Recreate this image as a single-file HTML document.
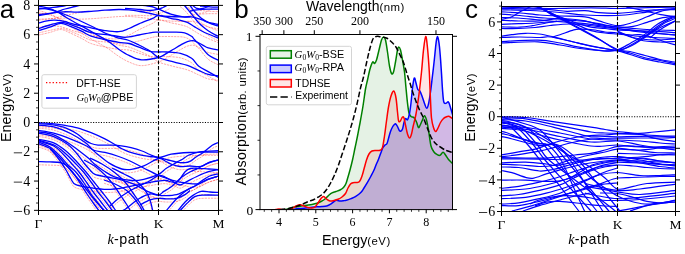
<!DOCTYPE html>
<html><head><meta charset="utf-8">
<style>
html,body{margin:0;padding:0;background:#fff;width:685px;height:254px;overflow:hidden}
svg{display:block;will-change:transform}
.sans{font-family:"Liberation Sans",sans-serif}
.serif{font-family:"Liberation Serif",serif}
</style></head><body>
<svg width="685" height="254" viewBox="0 0 685 254">
<defs><clipPath id="clipa"><rect x="38.5" y="5.5" width="180.0" height="205.0"/></clipPath><clipPath id="clipc"><rect x="501.5" y="6.5" width="174.0" height="205.0"/></clipPath></defs><g clip-path="url(#clipa)" fill="none" stroke-linejoin="round"><path d="M38.5,13.7C40.42,13.61 45.82,13.42 50,13.19C54.18,12.96 59.93,12.73 63.6,12.33C67.27,11.94 70.6,11.06 72,10.81" stroke="#ff0000" stroke-width="0.9" stroke-opacity="0.38" stroke-dasharray="2.2,0.9"/><path d="M38.5,10.5C39.92,10.91 43.97,11.82 47,12.96C50.03,14.11 53.48,15.54 56.7,17.38C59.92,19.21 62.87,21.77 66.3,24C69.73,26.22 73.62,28.53 77.3,30.75C80.98,32.97 84.95,35.27 88.4,37.3C91.85,39.32 94.8,41.06 98,42.9C101.2,44.74 104.15,46.08 107.6,48.32C111.05,50.55 115.13,54.01 118.7,56.29C122.27,58.57 125.18,60.43 129,61.99C132.82,63.56 136.68,65.68 141.6,65.68C146.52,65.69 154.33,63.3 158.5,62C162.67,60.7 164.1,59.27 166.6,57.9C169.1,56.53 171.18,55.18 173.5,53.8C175.82,52.42 178.18,50.88 180.5,49.6C182.82,48.32 185.1,46.8 187.4,46.1C189.7,45.4 191.75,44.82 194.3,45.4C196.85,45.98 200.38,48.43 202.7,49.6C205.02,50.77 205.57,51.58 208.2,52.4C210.83,53.22 216.78,54.15 218.5,54.5" stroke="#ff0000" stroke-width="0.9" stroke-opacity="0.38" stroke-dasharray="2.2,0.9"/><path d="M38.5,12.8C40.38,13.15 45.62,13.62 49.8,14.87C53.98,16.13 59.02,18.39 63.6,20.33C68.18,22.28 72.72,24.36 77.3,26.55C81.88,28.73 86.5,31.13 91.1,33.44C95.7,35.76 101.25,38.82 104.9,40.46C108.55,42.1 110.7,42.5 113,43.29C115.3,44.08 116.03,44.56 118.7,45.19C121.37,45.82 125.63,46.13 129,47.09C132.37,48.06 135.4,49.46 138.9,50.97C142.4,52.48 146.73,54.32 150,56.16C153.27,58 154.58,60.29 158.5,62C162.42,63.71 168.68,65.08 173.5,66.4C178.32,67.72 183.23,68.5 187.4,69.9C191.57,71.3 195.03,73.3 198.5,74.8C201.97,76.3 204.87,77.98 208.2,78.9C211.53,79.82 216.78,80.07 218.5,80.3" stroke="#ff0000" stroke-width="0.9" stroke-opacity="0.38" stroke-dasharray="2.2,0.9"/><path d="M38.5,19.2C40.38,19.11 45.62,18.85 49.8,18.67C53.98,18.5 59.02,18.05 63.6,18.13C68.18,18.21 72.72,19.05 77.3,19.15C81.88,19.25 86.5,18.99 91.1,18.74C95.7,18.5 100.3,18.02 104.9,17.66C109.5,17.3 114.68,16.78 118.7,16.59C122.72,16.4 125.45,16.36 129,16.49C132.55,16.63 136.5,17.04 140,17.4C143.5,17.76 146.92,18.26 150,18.66C153.08,19.06 155.17,19.41 158.5,19.8C161.83,20.19 166.33,20.73 170,21C173.67,21.27 176.9,21.33 180.5,21.4C184.1,21.47 188.13,20.95 191.6,21.4C195.07,21.85 198.53,23.18 201.3,24.1C204.07,25.02 205.88,26.2 208.2,26.9C210.52,27.6 213.48,27.95 215.2,28.3C216.92,28.65 217.95,28.88 218.5,29" stroke="#ff0000" stroke-width="0.9" stroke-opacity="0.38" stroke-dasharray="2.2,0.9"/><path d="M38.5,20.1C39.92,19.98 44.08,19.74 47,19.36C49.92,18.98 53,18.48 56,17.83C59,17.17 61.83,16.15 65,15.42C68.17,14.69 71.67,14.13 75,13.45C78.33,12.77 83.33,11.67 85,11.31" stroke="#ff0000" stroke-width="0.9" stroke-opacity="0.38" stroke-dasharray="2.2,0.9"/><path d="M38.5,27.5C39.92,27.26 44.43,26.33 47,26.06C49.57,25.79 51.6,25.76 53.9,25.88C56.2,25.99 58.5,26.25 60.8,26.75C63.1,27.25 64.95,27.99 67.7,28.88C70.45,29.76 73.4,30.99 77.3,32.05C81.2,33.11 86.5,34.24 91.1,35.24C95.7,36.25 100.3,37.47 104.9,38.06C109.5,38.65 114.68,39.28 118.7,38.79C122.72,38.3 125.63,36.6 129,35.09C132.37,33.59 134.95,31.75 138.9,29.77C142.85,27.8 149.43,24.88 152.7,23.25C155.97,21.62 155.48,20.08 158.5,20C161.52,19.92 167.13,22 170.8,22.8C174.47,23.6 177.73,24.12 180.5,24.8C183.27,25.48 185.1,25.85 187.4,26.9C189.7,27.95 191.98,29.72 194.3,31.1C196.62,32.48 198.98,33.97 201.3,35.2C203.62,36.43 205.33,37.25 208.2,38.5C211.07,39.75 216.78,42 218.5,42.7" stroke="#ff0000" stroke-width="0.9" stroke-opacity="0.38" stroke-dasharray="2.2,0.9"/><path d="M38.5,33C40.38,32.56 46.08,31.13 49.8,30.37C53.52,29.62 57.82,28.47 60.8,28.45C63.78,28.44 64.95,29.33 67.7,30.28C70.45,31.23 73.85,32.65 77.3,34.15C80.75,35.65 85.42,38.17 88.4,39.3C91.38,40.42 91.3,40.33 95.2,40.89C99.1,41.44 106.83,42.08 111.8,42.62C116.77,43.16 120.48,44.38 125,44.11C129.52,43.83 134.28,42.11 138.9,40.97C143.52,39.83 149.43,37.98 152.7,37.25C155.97,36.52 155.03,36.71 158.5,36.6C161.97,36.49 169.15,36.48 173.5,36.6C177.85,36.72 181.58,36.6 184.6,37.3C187.62,38 189.98,39.68 191.6,40.8C193.22,41.92 192.92,42.53 194.3,44C195.68,45.47 197.58,47.05 199.9,49.6C202.22,52.15 205.1,56.75 208.2,59.3C211.3,61.85 216.78,63.97 218.5,64.9" stroke="#ff0000" stroke-width="0.9" stroke-opacity="0.38" stroke-dasharray="2.2,0.9"/><path d="M38.5,35.1C40.38,34.66 46.08,33.4 49.8,32.47C53.52,31.55 57.37,29.45 60.8,29.55C64.23,29.66 66.95,31.65 70.4,33.12C73.85,34.6 78.05,36.67 81.5,38.41C84.95,40.14 87.2,42.12 91.1,43.54C95,44.97 100.3,45.98 104.9,46.96C109.5,47.93 114.68,48.87 118.7,49.39C122.72,49.91 125.63,49.46 129,50.09C132.37,50.72 135.4,52.11 138.9,53.17C142.4,54.23 146.73,55.91 150,56.46C153.27,57.02 155.73,56.49 158.5,56.5C161.27,56.51 162.93,56.27 166.6,56.5C170.27,56.73 176.33,56.85 180.5,57.9C184.67,58.95 188.6,60.72 191.6,62.8C194.6,64.88 195.73,68.18 198.5,70.4C201.27,72.62 204.87,74.17 208.2,76.1C211.53,78.03 216.78,81.02 218.5,82" stroke="#ff0000" stroke-width="0.9" stroke-opacity="0.38" stroke-dasharray="2.2,0.9"/><path d="M140,10.9C141.9,11.01 148.32,11.09 151.4,11.55C154.48,12.02 155.27,12.53 158.5,13.7C161.73,14.87 166.67,17.32 170.8,18.6C174.93,19.88 180.07,20.93 183.3,21.4C186.53,21.87 189.05,21.4 190.2,21.4" stroke="#ff0000" stroke-width="0.9" stroke-opacity="0.38" stroke-dasharray="2.2,0.9"/><path d="M125,15.31C127.5,15.32 135.83,15.34 140,15.4C144.17,15.46 146.92,15.94 150,15.66C153.08,15.38 156.33,14.31 158.5,13.7C160.67,13.09 161.58,12.62 163,12C164.42,11.38 165.83,10.58 167,10C168.17,9.42 169.5,8.75 170,8.5" stroke="#ff0000" stroke-width="0.9" stroke-opacity="0.38" stroke-dasharray="2.2,0.9"/><path d="M180,6.5C180.77,7.13 182.67,8.28 184.6,10.3C186.53,12.32 189.52,16.07 191.6,18.6C193.68,21.13 195.25,23.42 197.1,25.5C198.95,27.58 200.85,29.48 202.7,31.1C204.55,32.72 206.12,33.82 208.2,35.2C210.28,36.58 213.48,38.47 215.2,39.4C216.92,40.33 217.95,40.57 218.5,40.8" stroke="#ff0000" stroke-width="0.9" stroke-opacity="0.38" stroke-dasharray="2.2,0.9"/><path d="M186,6.5C186.7,7.13 188.82,8.75 190.2,10.3C191.58,11.85 192.45,13.72 194.3,15.8C196.15,17.88 198.98,20.95 201.3,22.8C203.62,24.65 205.88,25.75 208.2,26.9C210.52,28.05 213.48,29.12 215.2,29.7C216.92,30.28 217.95,30.28 218.5,30.4" stroke="#ff0000" stroke-width="0.9" stroke-opacity="0.38" stroke-dasharray="2.2,0.9"/><path d="M188,7.5C188.83,7.97 191.48,9.38 193,10.3C194.52,11.22 195.48,12.55 197.1,13C198.72,13.45 200.85,13.33 202.7,13C204.55,12.67 206.65,11.75 208.2,11C209.75,10.25 211.37,8.92 212,8.5" stroke="#ff0000" stroke-width="0.9" stroke-opacity="0.38" stroke-dasharray="2.2,0.9"/><path d="M190,15.5C191.18,15.32 194.07,14.7 197.1,14.4C200.13,14.1 204.63,13.82 208.2,13.7C211.77,13.58 216.78,13.7 218.5,13.7" stroke="#ff0000" stroke-width="0.9" stroke-opacity="0.38" stroke-dasharray="2.2,0.9"/><path d="M200,10.5C201.67,10.63 206.92,11.1 210,11.3C213.08,11.5 217.08,11.63 218.5,11.7" stroke="#ff0000" stroke-width="0.9" stroke-opacity="0.38" stroke-dasharray="2.2,0.9"/><path d="M38.5,125.9C40.38,126 45.62,126.1 49.8,126.5C53.98,126.9 59.02,127.55 63.6,128.3C68.18,129.05 72.72,129.73 77.3,131C81.88,132.27 86.5,134.05 91.1,135.9C95.7,137.75 100.77,140.03 104.9,142.1C109.03,144.17 113.15,146.7 115.9,148.3C118.65,149.9 119.22,150.58 121.4,151.7C123.58,152.82 125.9,153.95 129,155C132.1,156.05 136.5,157.22 140,158C143.5,158.78 146.92,159.25 150,159.7C153.08,160.15 155.48,160.12 158.5,160.7C161.52,161.28 165.08,162.43 168.1,163.2C171.12,163.97 173.77,164.85 176.6,165.3C179.43,165.75 182.8,166.07 185.1,165.9C187.4,165.73 188.58,165.25 190.4,164.3C192.22,163.35 193.85,161.63 196,160.2C198.15,158.77 200.6,157.65 203.3,155.7C206,153.75 209.67,150.17 212.2,148.5C214.73,146.83 217.45,146.17 218.5,145.7" stroke="#ff0000" stroke-width="0.9" stroke-opacity="0.38" stroke-dasharray="2.2,0.9"/><path d="M38.5,126.9C40.38,127.02 45.62,127.02 49.8,127.6C53.98,128.18 59.02,128.8 63.6,130.4C68.18,132 73.87,135.13 77.3,137.2C80.73,139.27 81.9,141.22 84.2,142.8C86.5,144.38 88.8,145.78 91.1,146.7C93.4,147.62 94.55,148.02 98,148.3C101.45,148.58 107.9,148.27 111.8,148.4C115.7,148.53 118.2,148.68 121.4,149.1C124.6,149.52 127.57,150.05 131,150.9C134.43,151.75 138.83,153.07 142,154.2C145.17,155.33 147.25,156.62 150,157.7C152.75,158.78 154.97,160.75 158.5,160.7C162.03,160.65 166.12,158.23 171.2,157.4C176.28,156.57 183.05,156.05 189,155.7C194.95,155.35 201.98,155.37 206.9,155.3C211.82,155.23 216.57,155.3 218.5,155.3" stroke="#ff0000" stroke-width="0.9" stroke-opacity="0.38" stroke-dasharray="2.2,0.9"/><path d="M38.5,128.3C41.03,128.6 48.2,128.62 53.7,130.1C59.2,131.58 66.18,134.55 71.5,137.2C76.82,139.85 82.07,143.35 85.6,146C89.13,148.65 90.55,151.07 92.7,153.1C94.85,155.13 95.68,155.95 98.5,158.2C101.32,160.45 105.72,164.27 109.6,166.6C113.48,168.93 118.13,171.22 121.8,172.2C125.47,173.18 127.93,173.02 131.6,172.5C135.27,171.98 139.32,170.9 143.8,169.1C148.28,167.3 154.8,162.43 158.5,161.7C162.2,160.97 163.75,163.7 166,164.7C168.25,165.7 169.67,166.87 172,167.7C174.33,168.53 177,169.45 180,169.7C183,169.95 186.48,169.22 190,169.2C193.52,169.18 197.83,170.25 201.1,169.6C204.37,168.95 206.7,166.37 209.6,165.3C212.5,164.23 217.02,163.55 218.5,163.2" stroke="#ff0000" stroke-width="0.9" stroke-opacity="0.38" stroke-dasharray="2.2,0.9"/><path d="M38.5,133.6C41.03,134.05 48.2,134.82 53.7,136.3C59.2,137.78 66.18,140.43 71.5,142.5C76.82,144.57 81.77,146.83 85.6,148.7C89.43,150.57 91.28,152.55 94.5,153.7C97.72,154.85 100.87,154.6 104.9,155.6C108.93,156.6 114.52,158.27 118.7,159.7C122.88,161.13 125.7,162.2 130,164.2C134.3,166.2 139.75,169.28 144.5,171.7C149.25,174.12 154.92,177.1 158.5,178.7C162.08,180.3 162.98,180.33 166,181.3C169.02,182.27 173.42,183.7 176.6,184.5C179.78,185.3 182.43,185.67 185.1,186.1C187.77,186.53 190.28,187 192.6,187.1C194.92,187.2 196.35,187.5 199,186.7C201.65,185.9 205.25,183.55 208.5,182.3C211.75,181.05 216.83,179.72 218.5,179.2" stroke="#ff0000" stroke-width="0.9" stroke-opacity="0.38" stroke-dasharray="2.2,0.9"/><path d="M38.5,135C41.03,135.5 48.8,136.17 53.7,138C58.6,139.83 63.47,143.18 67.9,146C72.33,148.82 76.75,152.23 80.3,154.9C83.85,157.57 86.75,159.85 89.2,162C91.65,164.15 92.53,165.77 95,167.8C97.47,169.83 100.75,172.17 104,174.2C107.25,176.23 109.9,178.42 114.5,180C119.1,181.58 126.72,183.28 131.6,183.7C136.48,184.12 139.32,183.52 143.8,182.5C148.28,181.48 154.8,179.4 158.5,177.6C162.2,175.8 163.52,173.38 166,171.7C168.48,170.02 171.45,168.65 173.4,167.5C175.35,166.35 176.27,165.6 177.7,164.8C179.13,164 180.12,163.8 182,162.7C183.88,161.6 186.05,159.48 189,158.2C191.95,156.92 194.78,155.72 199.7,155C204.62,154.28 215.37,154.08 218.5,153.9" stroke="#ff0000" stroke-width="0.9" stroke-opacity="0.38" stroke-dasharray="2.2,0.9"/><path d="M38.5,136.3C41.03,136.88 48.8,137.88 53.7,139.8C58.6,141.72 64.05,144.98 67.9,147.8C71.75,150.62 74.13,153.63 76.8,156.7C79.47,159.77 81.7,163.45 83.9,166.2C86.1,168.95 88.15,171.3 90,173.2C91.85,175.1 92.17,176.43 95,177.6C97.83,178.77 102.93,179.38 107,180.2C111.07,181.02 114.9,181.32 119.4,182.5C123.9,183.68 129.93,185.6 134,187.3C138.07,189 141.13,191.32 143.8,192.7C146.47,194.08 147.55,194.67 150,195.6C152.45,196.53 155.83,197.77 158.5,198.3C161.17,198.83 162.98,198.88 166,198.8C169.02,198.72 173.6,198.5 176.6,197.8C179.6,197.1 181.7,195.67 184,194.6C186.3,193.53 188.4,192.38 190.4,191.4C192.4,190.42 194.22,189.85 196,188.7C197.78,187.55 198.83,186.08 201.1,184.5C203.37,182.92 206.7,180.45 209.6,179.2C212.5,177.95 217.02,177.37 218.5,177" stroke="#ff0000" stroke-width="0.9" stroke-opacity="0.38" stroke-dasharray="2.2,0.9"/><path d="M38.5,142.5C41.03,143.08 49.12,144.05 53.7,146C58.28,147.95 62.12,151 66,154.2C69.88,157.4 73.67,161.7 77,165.2C80.33,168.7 83.17,171.87 86,175.2C88.83,178.53 91.33,181.87 94,185.2C96.67,188.53 99.5,192.03 102,195.2C104.5,198.37 106.67,201.03 109,204.2C111.33,207.37 114.83,212.53 116,214.2" stroke="#ff0000" stroke-width="0.9" stroke-opacity="0.38" stroke-dasharray="2.2,0.9"/><path d="M38.5,143.4C41.25,144.28 50.42,146.4 55,148.7C59.58,151 62.67,154.28 66,157.2C69.33,160.12 72.08,163.2 75,166.2C77.92,169.2 80.83,172.03 83.5,175.2C86.17,178.37 88.58,181.87 91,185.2C93.42,188.53 95.5,191.87 98,195.2C100.5,198.53 103.58,202.03 106,205.2C108.42,208.37 111.42,212.7 112.5,214.2" stroke="#ff0000" stroke-width="0.9" stroke-opacity="0.38" stroke-dasharray="2.2,0.9"/><path d="M38.5,144.2C41.03,145.03 49.62,147.03 53.7,149.2C57.78,151.37 60.12,154.37 63,157.2C65.88,160.03 68.33,163.2 71,166.2C73.67,169.2 76.33,171.87 79,175.2C81.67,178.53 84.5,182.7 87,186.2C89.5,189.7 91.67,193.03 94,196.2C96.33,199.37 98.67,202.2 101,205.2C103.33,208.2 106.83,212.7 108,214.2" stroke="#ff0000" stroke-width="0.9" stroke-opacity="0.38" stroke-dasharray="2.2,0.9"/><path d="M38.5,145.1C40.42,145.95 46.42,147.85 50,150.2C53.58,152.55 57,156.2 60,159.2C63,162.2 65.37,165.53 68,168.2C70.63,170.87 73.13,172.2 75.8,175.2C78.47,178.2 81.47,182.53 84,186.2C86.53,189.87 88.67,193.87 91,197.2C93.33,200.53 95.83,203.37 98,206.2C100.17,209.03 103,212.87 104,214.2" stroke="#ff0000" stroke-width="0.9" stroke-opacity="0.38" stroke-dasharray="2.2,0.9"/><path d="M38.5,146.9C40.45,147.7 46.78,149.48 50.2,151.7C53.62,153.92 56.37,157.45 59,160.2C61.63,162.95 63.73,165.7 66,168.2C68.27,170.7 70.27,172.2 72.6,175.2C74.93,178.2 77.6,182.53 80,186.2C82.4,189.87 84.67,193.7 87,197.2C89.33,200.7 91.83,204.2 94,207.2C96.17,210.2 99,213.87 100,215.2" stroke="#ff0000" stroke-width="0.9" stroke-opacity="0.38" stroke-dasharray="2.2,0.9"/><path d="M38.5,164.8C40.38,164.85 46.22,164.95 49.8,165.1C53.38,165.25 57.3,165.18 60,165.7C62.7,166.22 64.25,166.9 66,168.2C67.75,169.5 69.07,171.83 70.5,173.5C71.93,175.17 73.02,176.42 74.6,178.2C76.18,179.98 78.1,181.87 80,184.2C81.9,186.53 83.83,189.37 86,192.2C88.17,195.03 90.67,198.37 93,201.2C95.33,204.03 97.83,206.87 100,209.2C102.17,211.53 105,214.2 106,215.2" stroke="#ff0000" stroke-width="0.9" stroke-opacity="0.38" stroke-dasharray="2.2,0.9"/><path d="M50,151.7C51.33,153.28 55.33,157.62 58,161.2C60.67,164.78 63.83,169.7 66,173.2C68.17,176.7 69.37,179.77 71,182.2C72.63,184.63 72.38,186.33 75.8,187.8C79.22,189.27 86.25,190.22 91.5,191C96.75,191.78 102.05,192.5 107.3,192.5C112.55,192.5 117.75,191.78 123,191C128.25,190.22 134.3,188.68 138.8,187.8C143.3,186.92 146.72,186.3 150,185.7C153.28,185.1 155.83,184.53 158.5,184.2C161.17,183.87 162.98,183.48 166,183.7C169.02,183.92 173.42,186.97 176.6,185.5C179.78,184.03 182.8,177.2 185.1,174.9C187.4,172.6 188.27,172.27 190.4,171.7C192.53,171.13 194.88,171.42 197.9,171.5C200.92,171.58 205.07,171.98 208.5,172.2C211.93,172.42 216.83,172.7 218.5,172.8" stroke="#ff0000" stroke-width="0.9" stroke-opacity="0.38" stroke-dasharray="2.2,0.9"/><path d="M84,163.2C86,164.37 92.17,167.37 96,170.2C99.83,173.03 103.83,176.87 107,180.2C110.17,183.53 112.67,187.03 115,190.2C117.33,193.37 119,196.2 121,199.2C123,202.2 125.33,205.53 127,208.2C128.67,210.87 130.33,214.03 131,215.2" stroke="#ff0000" stroke-width="0.9" stroke-opacity="0.38" stroke-dasharray="2.2,0.9"/><path d="M90,161.2C92,162.2 98,164.87 102,167.2C106,169.53 110.17,172.2 114,175.2C117.83,178.2 121.83,181.7 125,185.2C128.17,188.7 130.5,192.7 133,196.2C135.5,199.7 138,203.03 140,206.2C142,209.37 144.17,213.7 145,215.2" stroke="#ff0000" stroke-width="0.9" stroke-opacity="0.38" stroke-dasharray="2.2,0.9"/><path d="M118,215.2C119.05,214.83 120.82,215.2 124.3,213C127.78,210.8 134.62,204.63 138.9,202C143.18,199.37 146.73,197.82 150,197.2C153.27,196.58 156.2,198.73 158.5,198.3C160.8,197.87 162.03,195.75 163.8,194.6C165.57,193.45 167.5,192.47 169.1,191.4C170.7,190.33 171.27,190.07 173.4,188.2C175.53,186.33 179.07,182.42 181.9,180.2C184.73,177.98 187.73,176.32 190.4,174.9C193.07,173.48 195.42,172.93 197.9,171.7C200.38,170.47 202.65,168.73 205.3,167.5C207.95,166.27 211.6,165.02 213.8,164.3C216,163.58 217.72,163.38 218.5,163.2" stroke="#ff0000" stroke-width="0.9" stroke-opacity="0.38" stroke-dasharray="2.2,0.9"/><path d="M110,209.2C111.3,208.03 114.8,204.53 117.8,202.2C120.8,199.87 125.03,197.07 128,195.2C130.97,193.33 131.95,192.88 135.6,191C139.25,189.12 146.08,185.95 149.9,183.9C153.72,181.85 155.98,179.32 158.5,178.7C161.02,178.08 162.75,179.28 165,180.2C167.25,181.12 169.5,182.87 172,184.2C174.5,185.53 177.47,188.15 180,188.2C182.53,188.25 184.22,186 187.2,184.5C190.18,183 194.35,180.8 197.9,179.2C201.45,177.6 205.07,175.97 208.5,174.9C211.93,173.83 216.83,173.15 218.5,172.8" stroke="#ff0000" stroke-width="0.9" stroke-opacity="0.38" stroke-dasharray="2.2,0.9"/><path d="M140,208.2C141.67,207.35 146.92,204.22 150,203.1C153.08,201.98 155.83,201.68 158.5,201.5C161.17,201.32 162.98,202 166,202C169.02,202 173.42,202.2 176.6,201.5C179.78,200.8 182.87,199.1 185.1,197.8C187.33,196.5 189.18,194.38 190,193.7" stroke="#ff0000" stroke-width="0.9" stroke-opacity="0.38" stroke-dasharray="2.2,0.9"/><path d="M166,214.2C167.77,212.17 173.42,205.27 176.6,202C179.78,198.73 182.43,196.55 185.1,194.6C187.77,192.65 190.47,191.45 192.6,190.3C194.73,189.15 195.25,189.03 197.9,187.7C200.55,186.37 205.07,183.72 208.5,182.3C211.93,180.88 216.83,179.72 218.5,179.2" stroke="#ff0000" stroke-width="0.9" stroke-opacity="0.38" stroke-dasharray="2.2,0.9"/><path d="M177.7,214.2C178.93,212.7 182.62,207.77 185.1,205.2C187.58,202.63 189.93,200.57 192.6,198.8C195.27,197.03 198.2,195.2 201.1,194.6C204,194 207.1,195.03 210,195.2C212.9,195.37 217.08,195.53 218.5,195.6" stroke="#ff0000" stroke-width="0.9" stroke-opacity="0.38" stroke-dasharray="2.2,0.9"/><path d="M179.8,214.2C181.03,212.88 184.72,208.68 187.2,206.3C189.68,203.92 192.03,201.23 194.7,199.9C197.37,198.57 199.23,198.57 203.2,198.3C207.17,198.03 215.95,198.3 218.5,198.3" stroke="#ff0000" stroke-width="0.9" stroke-opacity="0.38" stroke-dasharray="2.2,0.9"/><path d="M104,183.2C105.83,183.87 111.33,185.53 115,187.2C118.67,188.87 122.83,190.87 126,193.2C129.17,195.53 131.83,198.7 134,201.2C136.17,203.7 137.5,205.87 139,208.2C140.5,210.53 142.33,214.03 143,215.2" stroke="#ff0000" stroke-width="0.9" stroke-opacity="0.38" stroke-dasharray="2.2,0.9"/><path d="M112,171.2C114,172.2 120.17,175.2 124,177.2C127.83,179.2 131.5,180.53 135,183.2C138.5,185.87 142.5,189.87 145,193.2C147.5,196.53 148.67,199.53 150,203.2C151.33,206.87 152.5,213.2 153,215.2" stroke="#ff0000" stroke-width="0.9" stroke-opacity="0.38" stroke-dasharray="2.2,0.9"/><path d="M38.5,9.2C40.42,8.97 45.82,8.33 50,7.8C54.18,7.27 59.93,6.63 63.6,6C67.27,5.37 70.6,4.33 72,4" stroke="#0000ff" stroke-width="1.3"/><path d="M38.5,6C39.92,6.3 43.97,6.88 47,7.8C50.03,8.72 53.48,9.88 56.7,11.5C59.92,13.12 62.87,15.47 66.3,17.5C69.73,19.53 73.62,21.63 77.3,23.7C80.98,25.77 84.95,27.95 88.4,29.9C91.85,31.85 94.8,33.57 98,35.4C101.2,37.23 104.15,38.6 107.6,40.9C111.05,43.2 115.13,46.78 118.7,49.2C122.27,51.62 125.18,53.62 129,55.4C132.82,57.18 136.68,59.55 141.6,59.9C146.52,60.25 154.33,58.58 158.5,57.5C162.67,56.42 164.1,54.77 166.6,53.4C169.1,52.03 171.18,50.68 173.5,49.3C175.82,47.92 178.18,46.38 180.5,45.1C182.82,43.82 185.1,42.3 187.4,41.6C189.7,40.9 191.75,40.32 194.3,40.9C196.85,41.48 200.38,43.93 202.7,45.1C205.02,46.27 205.57,47.08 208.2,47.9C210.83,48.72 216.78,49.65 218.5,50" stroke="#0000ff" stroke-width="1.3"/><path d="M38.5,8.3C40.38,8.5 45.62,8.55 49.8,9.5C53.98,10.45 59.02,12.33 63.6,14C68.18,15.67 72.72,17.5 77.3,19.5C81.88,21.5 86.5,23.75 91.1,26C95.7,28.25 101.25,31.33 104.9,33C108.55,34.67 110.7,35.15 113,36C115.3,36.85 116.03,37.35 118.7,38.1C121.37,38.85 125.63,39.35 129,40.5C132.37,41.65 135.4,43.25 138.9,45C142.4,46.75 146.73,48.92 150,51C153.27,53.08 154.58,55.68 158.5,57.5C162.42,59.32 168.68,60.58 173.5,61.9C178.32,63.22 183.23,64 187.4,65.4C191.57,66.8 195.03,68.8 198.5,70.3C201.97,71.8 204.87,73.48 208.2,74.4C211.53,75.32 216.78,75.57 218.5,75.8" stroke="#0000ff" stroke-width="1.3"/><path d="M38.5,14.7C40.38,14.47 45.62,13.78 49.8,13.3C53.98,12.82 59.02,12 63.6,11.8C68.18,11.6 72.72,12.18 77.3,12.1C81.88,12.02 86.5,11.62 91.1,11.3C95.7,10.98 100.3,10.5 104.9,10.2C109.5,9.9 114.68,9.55 118.7,9.5C122.72,9.45 125.45,9.57 129,9.9C132.55,10.23 136.5,10.9 140,11.5C143.5,12.1 146.92,12.87 150,13.5C153.08,14.13 155.17,14.8 158.5,15.3C161.83,15.8 166.33,16.23 170,16.5C173.67,16.77 176.9,16.83 180.5,16.9C184.1,16.97 188.13,16.45 191.6,16.9C195.07,17.35 198.53,18.68 201.3,19.6C204.07,20.52 205.88,21.7 208.2,22.4C210.52,23.1 213.48,23.45 215.2,23.8C216.92,24.15 217.95,24.38 218.5,24.5" stroke="#0000ff" stroke-width="1.3"/><path d="M38.5,15.6C39.92,15.37 44.08,14.8 47,14.2C49.92,13.6 53,12.87 56,12C59,11.13 61.83,9.92 65,9C68.17,8.08 71.67,7.33 75,6.5C78.33,5.67 83.33,4.42 85,4" stroke="#0000ff" stroke-width="1.3"/><path d="M38.5,23C39.92,22.65 44.43,21.37 47,20.9C49.57,20.43 51.6,20.25 53.9,20.2C56.2,20.15 58.5,20.25 60.8,20.6C63.1,20.95 64.95,21.57 67.7,22.3C70.45,23.03 73.4,24.08 77.3,25C81.2,25.92 86.5,26.87 91.1,27.8C95.7,28.73 100.3,29.95 104.9,30.6C109.5,31.25 114.68,32.05 118.7,31.7C122.72,31.35 125.63,29.82 129,28.5C132.37,27.18 134.95,25.5 138.9,23.8C142.85,22.1 149.43,19.68 152.7,18.3C155.97,16.92 155.48,15.5 158.5,15.5C161.52,15.5 167.13,17.5 170.8,18.3C174.47,19.1 177.73,19.62 180.5,20.3C183.27,20.98 185.1,21.35 187.4,22.4C189.7,23.45 191.98,25.22 194.3,26.6C196.62,27.98 198.98,29.47 201.3,30.7C203.62,31.93 205.33,32.75 208.2,34C211.07,35.25 216.78,37.5 218.5,38.2" stroke="#0000ff" stroke-width="1.3"/><path d="M38.5,28.5C40.38,27.92 46.08,26.03 49.8,25C53.52,23.97 57.82,22.52 60.8,22.3C63.78,22.08 64.95,22.9 67.7,23.7C70.45,24.5 73.85,25.73 77.3,27.1C80.75,28.47 85.42,30.85 88.4,31.9C91.38,32.95 91.3,32.83 95.2,33.4C99.1,33.97 106.83,34.65 111.8,35.3C116.77,35.95 120.48,37.35 125,37.3C129.52,37.25 134.28,35.83 138.9,35C143.52,34.17 149.43,32.78 152.7,32.3C155.97,31.82 155.03,32.13 158.5,32.1C161.97,32.07 169.15,31.98 173.5,32.1C177.85,32.22 181.58,32.1 184.6,32.8C187.62,33.5 189.98,35.18 191.6,36.3C193.22,37.42 192.92,38.03 194.3,39.5C195.68,40.97 197.58,42.55 199.9,45.1C202.22,47.65 205.1,52.25 208.2,54.8C211.3,57.35 216.78,59.47 218.5,60.4" stroke="#0000ff" stroke-width="1.3"/><path d="M38.5,30.6C40.38,30.02 46.08,28.3 49.8,27.1C53.52,25.9 57.37,23.52 60.8,23.4C64.23,23.28 66.95,25.1 70.4,26.4C73.85,27.7 78.05,29.58 81.5,31.2C84.95,32.82 87.2,34.72 91.1,36.1C95,37.48 100.3,38.47 104.9,39.5C109.5,40.53 114.68,41.63 118.7,42.3C122.72,42.97 125.63,42.68 129,43.5C132.37,44.32 135.4,45.9 138.9,47.2C142.4,48.5 146.73,50.5 150,51.3C153.27,52.1 155.73,51.88 158.5,52C161.27,52.12 162.93,51.77 166.6,52C170.27,52.23 176.33,52.35 180.5,53.4C184.67,54.45 188.6,56.22 191.6,58.3C194.6,60.38 195.73,63.68 198.5,65.9C201.27,68.12 204.87,69.67 208.2,71.6C211.53,73.53 216.78,76.52 218.5,77.5" stroke="#0000ff" stroke-width="1.3"/><path d="M140,5C141.9,5.25 148.32,5.8 151.4,6.5C154.48,7.2 155.27,7.93 158.5,9.2C161.73,10.47 166.67,12.82 170.8,14.1C174.93,15.38 180.07,16.43 183.3,16.9C186.53,17.37 189.05,16.9 190.2,16.9" stroke="#0000ff" stroke-width="1.3"/><path d="M125,8.5C127.5,8.67 135.83,9.17 140,9.5C144.17,9.83 146.92,10.55 150,10.5C153.08,10.45 156.33,9.7 158.5,9.2C160.67,8.7 161.58,8.12 163,7.5C164.42,6.88 165.83,6.08 167,5.5C168.17,4.92 169.5,4.25 170,4" stroke="#0000ff" stroke-width="1.3"/><path d="M180,2C180.77,2.63 182.67,3.78 184.6,5.8C186.53,7.82 189.52,11.57 191.6,14.1C193.68,16.63 195.25,18.92 197.1,21C198.95,23.08 200.85,24.98 202.7,26.6C204.55,28.22 206.12,29.32 208.2,30.7C210.28,32.08 213.48,33.97 215.2,34.9C216.92,35.83 217.95,36.07 218.5,36.3" stroke="#0000ff" stroke-width="1.3"/><path d="M186,2C186.7,2.63 188.82,4.25 190.2,5.8C191.58,7.35 192.45,9.22 194.3,11.3C196.15,13.38 198.98,16.45 201.3,18.3C203.62,20.15 205.88,21.25 208.2,22.4C210.52,23.55 213.48,24.62 215.2,25.2C216.92,25.78 217.95,25.78 218.5,25.9" stroke="#0000ff" stroke-width="1.3"/><path d="M188,3C188.83,3.47 191.48,4.88 193,5.8C194.52,6.72 195.48,8.05 197.1,8.5C198.72,8.95 200.85,8.83 202.7,8.5C204.55,8.17 206.65,7.25 208.2,6.5C209.75,5.75 211.37,4.42 212,4" stroke="#0000ff" stroke-width="1.3"/><path d="M190,11C191.18,10.82 194.07,10.2 197.1,9.9C200.13,9.6 204.63,9.32 208.2,9.2C211.77,9.08 216.78,9.2 218.5,9.2" stroke="#0000ff" stroke-width="1.3"/><path d="M200,6C201.67,6.13 206.92,6.6 210,6.8C213.08,7 217.08,7.13 218.5,7.2" stroke="#0000ff" stroke-width="1.3"/><path d="M38.5,122.7C40.38,122.8 45.62,122.9 49.8,123.3C53.98,123.7 59.02,124.35 63.6,125.1C68.18,125.85 72.72,126.53 77.3,127.8C81.88,129.07 86.5,130.85 91.1,132.7C95.7,134.55 100.77,136.83 104.9,138.9C109.03,140.97 113.15,143.5 115.9,145.1C118.65,146.7 119.22,147.38 121.4,148.5C123.58,149.62 125.9,150.75 129,151.8C132.1,152.85 136.5,154.02 140,154.8C143.5,155.58 146.92,156.05 150,156.5C153.08,156.95 155.48,156.92 158.5,157.5C161.52,158.08 165.08,159.23 168.1,160C171.12,160.77 173.77,161.65 176.6,162.1C179.43,162.55 182.8,162.87 185.1,162.7C187.4,162.53 188.58,162.05 190.4,161.1C192.22,160.15 193.85,158.43 196,157C198.15,155.57 200.6,154.45 203.3,152.5C206,150.55 209.67,146.97 212.2,145.3C214.73,143.63 217.45,142.97 218.5,142.5" stroke="#0000ff" stroke-width="1.3"/><path d="M38.5,123.7C40.38,123.82 45.62,123.82 49.8,124.4C53.98,124.98 59.02,125.6 63.6,127.2C68.18,128.8 73.87,131.93 77.3,134C80.73,136.07 81.9,138.02 84.2,139.6C86.5,141.18 88.8,142.58 91.1,143.5C93.4,144.42 94.55,144.82 98,145.1C101.45,145.38 107.9,145.07 111.8,145.2C115.7,145.33 118.2,145.48 121.4,145.9C124.6,146.32 127.57,146.85 131,147.7C134.43,148.55 138.83,149.87 142,151C145.17,152.13 147.25,153.42 150,154.5C152.75,155.58 154.97,157.55 158.5,157.5C162.03,157.45 166.12,155.03 171.2,154.2C176.28,153.37 183.05,152.85 189,152.5C194.95,152.15 201.98,152.17 206.9,152.1C211.82,152.03 216.57,152.1 218.5,152.1" stroke="#0000ff" stroke-width="1.3"/><path d="M38.5,125.1C41.03,125.4 48.2,125.42 53.7,126.9C59.2,128.38 66.18,131.35 71.5,134C76.82,136.65 82.07,140.15 85.6,142.8C89.13,145.45 90.55,147.87 92.7,149.9C94.85,151.93 95.68,152.75 98.5,155C101.32,157.25 105.72,161.07 109.6,163.4C113.48,165.73 118.13,168.02 121.8,169C125.47,169.98 127.93,169.82 131.6,169.3C135.27,168.78 139.32,167.7 143.8,165.9C148.28,164.1 154.8,159.23 158.5,158.5C162.2,157.77 163.75,160.5 166,161.5C168.25,162.5 169.67,163.67 172,164.5C174.33,165.33 177,166.25 180,166.5C183,166.75 186.48,166.02 190,166C193.52,165.98 197.83,167.05 201.1,166.4C204.37,165.75 206.7,163.17 209.6,162.1C212.5,161.03 217.02,160.35 218.5,160" stroke="#0000ff" stroke-width="1.3"/><path d="M38.5,130.4C41.03,130.85 48.2,131.62 53.7,133.1C59.2,134.58 66.18,137.23 71.5,139.3C76.82,141.37 81.77,143.63 85.6,145.5C89.43,147.37 91.28,149.35 94.5,150.5C97.72,151.65 100.87,151.4 104.9,152.4C108.93,153.4 114.52,155.07 118.7,156.5C122.88,157.93 125.7,159 130,161C134.3,163 139.75,166.08 144.5,168.5C149.25,170.92 154.92,173.9 158.5,175.5C162.08,177.1 162.98,177.13 166,178.1C169.02,179.07 173.42,180.5 176.6,181.3C179.78,182.1 182.43,182.47 185.1,182.9C187.77,183.33 190.28,183.8 192.6,183.9C194.92,184 196.35,184.3 199,183.5C201.65,182.7 205.25,180.35 208.5,179.1C211.75,177.85 216.83,176.52 218.5,176" stroke="#0000ff" stroke-width="1.3"/><path d="M38.5,131.8C41.03,132.3 48.8,132.97 53.7,134.8C58.6,136.63 63.47,139.98 67.9,142.8C72.33,145.62 76.75,149.03 80.3,151.7C83.85,154.37 86.75,156.65 89.2,158.8C91.65,160.95 92.53,162.57 95,164.6C97.47,166.63 100.75,168.97 104,171C107.25,173.03 109.9,175.22 114.5,176.8C119.1,178.38 126.72,180.08 131.6,180.5C136.48,180.92 139.32,180.32 143.8,179.3C148.28,178.28 154.8,176.2 158.5,174.4C162.2,172.6 163.52,170.18 166,168.5C168.48,166.82 171.45,165.45 173.4,164.3C175.35,163.15 176.27,162.4 177.7,161.6C179.13,160.8 180.12,160.6 182,159.5C183.88,158.4 186.05,156.28 189,155C191.95,153.72 194.78,152.52 199.7,151.8C204.62,151.08 215.37,150.88 218.5,150.7" stroke="#0000ff" stroke-width="1.3"/><path d="M38.5,133.1C41.03,133.68 48.8,134.68 53.7,136.6C58.6,138.52 64.05,141.78 67.9,144.6C71.75,147.42 74.13,150.43 76.8,153.5C79.47,156.57 81.7,160.25 83.9,163C86.1,165.75 88.15,168.1 90,170C91.85,171.9 92.17,173.23 95,174.4C97.83,175.57 102.93,176.18 107,177C111.07,177.82 114.9,178.12 119.4,179.3C123.9,180.48 129.93,182.4 134,184.1C138.07,185.8 141.13,188.12 143.8,189.5C146.47,190.88 147.55,191.47 150,192.4C152.45,193.33 155.83,194.57 158.5,195.1C161.17,195.63 162.98,195.68 166,195.6C169.02,195.52 173.6,195.3 176.6,194.6C179.6,193.9 181.7,192.47 184,191.4C186.3,190.33 188.4,189.18 190.4,188.2C192.4,187.22 194.22,186.65 196,185.5C197.78,184.35 198.83,182.88 201.1,181.3C203.37,179.72 206.7,177.25 209.6,176C212.5,174.75 217.02,174.17 218.5,173.8" stroke="#0000ff" stroke-width="1.3"/><path d="M38.5,139.3C41.03,139.88 49.12,140.85 53.7,142.8C58.28,144.75 62.12,147.8 66,151C69.88,154.2 73.67,158.5 77,162C80.33,165.5 83.17,168.67 86,172C88.83,175.33 91.33,178.67 94,182C96.67,185.33 99.5,188.83 102,192C104.5,195.17 106.67,197.83 109,201C111.33,204.17 114.83,209.33 116,211" stroke="#0000ff" stroke-width="1.3"/><path d="M38.5,140.2C41.25,141.08 50.42,143.2 55,145.5C59.58,147.8 62.67,151.08 66,154C69.33,156.92 72.08,160 75,163C77.92,166 80.83,168.83 83.5,172C86.17,175.17 88.58,178.67 91,182C93.42,185.33 95.5,188.67 98,192C100.5,195.33 103.58,198.83 106,202C108.42,205.17 111.42,209.5 112.5,211" stroke="#0000ff" stroke-width="1.3"/><path d="M38.5,141C41.03,141.83 49.62,143.83 53.7,146C57.78,148.17 60.12,151.17 63,154C65.88,156.83 68.33,160 71,163C73.67,166 76.33,168.67 79,172C81.67,175.33 84.5,179.5 87,183C89.5,186.5 91.67,189.83 94,193C96.33,196.17 98.67,199 101,202C103.33,205 106.83,209.5 108,211" stroke="#0000ff" stroke-width="1.3"/><path d="M38.5,141.9C40.42,142.75 46.42,144.65 50,147C53.58,149.35 57,153 60,156C63,159 65.37,162.33 68,165C70.63,167.67 73.13,169 75.8,172C78.47,175 81.47,179.33 84,183C86.53,186.67 88.67,190.67 91,194C93.33,197.33 95.83,200.17 98,203C100.17,205.83 103,209.67 104,211" stroke="#0000ff" stroke-width="1.3"/><path d="M38.5,143.7C40.45,144.5 46.78,146.28 50.2,148.5C53.62,150.72 56.37,154.25 59,157C61.63,159.75 63.73,162.5 66,165C68.27,167.5 70.27,169 72.6,172C74.93,175 77.6,179.33 80,183C82.4,186.67 84.67,190.5 87,194C89.33,197.5 91.83,201 94,204C96.17,207 99,210.67 100,212" stroke="#0000ff" stroke-width="1.3"/><path d="M38.5,161.6C40.38,161.65 46.22,161.75 49.8,161.9C53.38,162.05 57.3,161.98 60,162.5C62.7,163.02 64.25,163.7 66,165C67.75,166.3 69.07,168.63 70.5,170.3C71.93,171.97 73.02,173.22 74.6,175C76.18,176.78 78.1,178.67 80,181C81.9,183.33 83.83,186.17 86,189C88.17,191.83 90.67,195.17 93,198C95.33,200.83 97.83,203.67 100,206C102.17,208.33 105,211 106,212" stroke="#0000ff" stroke-width="1.3"/><path d="M50,148.5C51.33,150.08 55.33,154.42 58,158C60.67,161.58 63.83,166.5 66,170C68.17,173.5 69.37,176.57 71,179C72.63,181.43 72.38,183.13 75.8,184.6C79.22,186.07 86.25,187.02 91.5,187.8C96.75,188.58 102.05,189.3 107.3,189.3C112.55,189.3 117.75,188.58 123,187.8C128.25,187.02 134.3,185.48 138.8,184.6C143.3,183.72 146.72,183.1 150,182.5C153.28,181.9 155.83,181.33 158.5,181C161.17,180.67 162.98,180.28 166,180.5C169.02,180.72 173.42,183.77 176.6,182.3C179.78,180.83 182.8,174 185.1,171.7C187.4,169.4 188.27,169.07 190.4,168.5C192.53,167.93 194.88,168.22 197.9,168.3C200.92,168.38 205.07,168.78 208.5,169C211.93,169.22 216.83,169.5 218.5,169.6" stroke="#0000ff" stroke-width="1.3"/><path d="M84,160C86,161.17 92.17,164.17 96,167C99.83,169.83 103.83,173.67 107,177C110.17,180.33 112.67,183.83 115,187C117.33,190.17 119,193 121,196C123,199 125.33,202.33 127,205C128.67,207.67 130.33,210.83 131,212" stroke="#0000ff" stroke-width="1.3"/><path d="M90,158C92,159 98,161.67 102,164C106,166.33 110.17,169 114,172C117.83,175 121.83,178.5 125,182C128.17,185.5 130.5,189.5 133,193C135.5,196.5 138,199.83 140,203C142,206.17 144.17,210.5 145,212" stroke="#0000ff" stroke-width="1.3"/><path d="M118,212C119.05,211.63 120.82,212 124.3,209.8C127.78,207.6 134.62,201.43 138.9,198.8C143.18,196.17 146.73,194.62 150,194C153.27,193.38 156.2,195.53 158.5,195.1C160.8,194.67 162.03,192.55 163.8,191.4C165.57,190.25 167.5,189.27 169.1,188.2C170.7,187.13 171.27,186.87 173.4,185C175.53,183.13 179.07,179.22 181.9,177C184.73,174.78 187.73,173.12 190.4,171.7C193.07,170.28 195.42,169.73 197.9,168.5C200.38,167.27 202.65,165.53 205.3,164.3C207.95,163.07 211.6,161.82 213.8,161.1C216,160.38 217.72,160.18 218.5,160" stroke="#0000ff" stroke-width="1.3"/><path d="M110,206C111.3,204.83 114.8,201.33 117.8,199C120.8,196.67 125.03,193.87 128,192C130.97,190.13 131.95,189.68 135.6,187.8C139.25,185.92 146.08,182.75 149.9,180.7C153.72,178.65 155.98,176.12 158.5,175.5C161.02,174.88 162.75,176.08 165,177C167.25,177.92 169.5,179.67 172,181C174.5,182.33 177.47,184.95 180,185C182.53,185.05 184.22,182.8 187.2,181.3C190.18,179.8 194.35,177.6 197.9,176C201.45,174.4 205.07,172.77 208.5,171.7C211.93,170.63 216.83,169.95 218.5,169.6" stroke="#0000ff" stroke-width="1.3"/><path d="M140,205C141.67,204.15 146.92,201.02 150,199.9C153.08,198.78 155.83,198.48 158.5,198.3C161.17,198.12 162.98,198.8 166,198.8C169.02,198.8 173.42,199 176.6,198.3C179.78,197.6 182.87,195.9 185.1,194.6C187.33,193.3 189.18,191.18 190,190.5" stroke="#0000ff" stroke-width="1.3"/><path d="M166,211C167.77,208.97 173.42,202.07 176.6,198.8C179.78,195.53 182.43,193.35 185.1,191.4C187.77,189.45 190.47,188.25 192.6,187.1C194.73,185.95 195.25,185.83 197.9,184.5C200.55,183.17 205.07,180.52 208.5,179.1C211.93,177.68 216.83,176.52 218.5,176" stroke="#0000ff" stroke-width="1.3"/><path d="M177.7,211C178.93,209.5 182.62,204.57 185.1,202C187.58,199.43 189.93,197.37 192.6,195.6C195.27,193.83 198.2,192 201.1,191.4C204,190.8 207.1,191.83 210,192C212.9,192.17 217.08,192.33 218.5,192.4" stroke="#0000ff" stroke-width="1.3"/><path d="M179.8,211C181.03,209.68 184.72,205.48 187.2,203.1C189.68,200.72 192.03,198.03 194.7,196.7C197.37,195.37 199.23,195.37 203.2,195.1C207.17,194.83 215.95,195.1 218.5,195.1" stroke="#0000ff" stroke-width="1.3"/><path d="M104,180C105.83,180.67 111.33,182.33 115,184C118.67,185.67 122.83,187.67 126,190C129.17,192.33 131.83,195.5 134,198C136.17,200.5 137.5,202.67 139,205C140.5,207.33 142.33,210.83 143,212" stroke="#0000ff" stroke-width="1.3"/><path d="M112,168C114,169 120.17,172 124,174C127.83,176 131.5,177.33 135,180C138.5,182.67 142.5,186.67 145,190C147.5,193.33 148.67,196.33 150,200C151.33,203.67 152.5,210 153,212" stroke="#0000ff" stroke-width="1.3"/></g><g clip-path="url(#clipc)" fill="none" stroke-linejoin="round"><path d="M501.5,6.2L675.5,6.2" stroke="#0000ff" stroke-width="1.2"/><path d="M501.5,7.1C505.42,7.22 516.42,7.57 525,7.8C533.58,8.03 542,8.5 553,8.5C564,8.5 580.25,7.8 591,7.8C601.75,7.8 609.33,8.5 617.5,8.5C625.67,8.5 630.33,8.03 640,7.8C649.67,7.57 669.58,7.22 675.5,7.1" stroke="#0000ff" stroke-width="1.2"/><path d="M501.5,8.5C504.42,8.55 512.75,8.68 519,8.8C525.25,8.92 533.33,9.02 539,9.2C544.67,9.38 548.33,9.55 553,9.9C557.67,10.25 561.67,11.18 567,11.3C572.33,11.42 579.7,10.38 585,10.6C590.3,10.82 593.38,12.15 598.8,12.6C604.22,13.05 611.77,13.4 617.5,13.3C623.23,13.2 627.13,12.57 633.2,12C639.27,11.43 646.85,10.48 653.9,9.9C660.95,9.32 671.9,8.73 675.5,8.5" stroke="#0000ff" stroke-width="1.2"/><path d="M501.5,9.8C506.25,9.92 520.25,10.05 530,10.5C539.75,10.95 550.83,11.75 560,12.5C569.17,13.25 575.42,14.5 585,15C594.58,15.5 608.33,15.83 617.5,15.5C626.67,15.17 632.92,13.92 640,13C647.08,12.08 654.08,10.57 660,10C665.92,9.43 672.92,9.67 675.5,9.6" stroke="#0000ff" stroke-width="1.2"/><path d="M501.5,19.5C503.22,19.05 508.93,17.95 511.8,16.8C514.67,15.65 516.4,13.87 518.7,12.6C521,11.33 523.53,10.23 525.6,9.2C527.67,8.17 530.18,6.87 531.1,6.4" stroke="#0000ff" stroke-width="1.2"/><path d="M528,5.5C529.88,5.88 536.27,6.83 539.3,7.8C542.33,8.77 543.9,10.03 546.2,11.3C548.5,12.57 550.8,14.25 553.1,15.4C555.4,16.55 557.7,17.28 560,18.2C562.3,19.12 563.45,19.53 566.9,20.9C570.35,22.27 576.68,24.78 580.7,26.4C584.72,28.02 586.95,29.5 591,30.6C595.05,31.7 600.58,32.43 605,33C609.42,33.57 613.33,33.67 617.5,34C621.67,34.33 626.23,34.88 630,35C633.77,35.12 636.12,34.2 640.1,34.7C644.08,35.2 649.75,36.78 653.9,38C658.05,39.22 661.4,40.83 665,42C668.6,43.17 673.75,44.5 675.5,45" stroke="#0000ff" stroke-width="1.2"/><path d="M539.3,7.1C541.6,8.25 548.5,11.93 553.1,14C557.7,16.07 562.3,17.77 566.9,19.5C571.5,21.23 576.68,23.13 580.7,24.4C584.72,25.67 586.95,26.42 591,27.1C595.05,27.78 600.58,28.03 605,28.5C609.42,28.97 612.8,29.55 617.5,29.9C622.2,30.25 627.13,30.38 633.2,30.6C639.27,30.82 646.85,30.87 653.9,31.2C660.95,31.53 671.9,32.37 675.5,32.6" stroke="#0000ff" stroke-width="1.2"/><path d="M501.5,11.8C504.58,12 513.58,12.47 520,13C526.42,13.53 533.33,14.5 540,15C546.67,15.5 552.5,15.7 560,16C567.5,16.3 578.53,15.98 585,16.8C591.47,17.62 593.38,19.42 598.8,20.9C604.22,22.38 611.77,25.47 617.5,25.7C623.23,25.93 628.28,23.78 633.2,22.3C638.12,20.82 642.4,18.63 647,16.8C651.6,14.97 656.05,12.68 660.8,11.3C665.55,9.92 673.05,8.97 675.5,8.5" stroke="#0000ff" stroke-width="1.2"/><path d="M501.5,14.2C504.58,14.42 512.75,14.87 520,15.5C527.25,16.13 536.67,17.42 545,18C553.33,18.58 563.33,18.52 570,19C576.67,19.48 580.2,20 585,20.9C589.8,21.8 593.38,23.37 598.8,24.4C604.22,25.43 611.77,26.77 617.5,27.1C623.23,27.43 628.28,27.2 633.2,26.4C638.12,25.6 642.4,23.67 647,22.3C651.6,20.93 656.05,19.23 660.8,18.2C665.55,17.17 673.05,16.45 675.5,16.1" stroke="#0000ff" stroke-width="1.2"/><path d="M501.5,17.6C504.25,17.67 512.42,17.68 518,18C523.58,18.32 529.67,19 535,19.5C540.33,20 544.17,20.5 550,21C555.83,21.5 564.17,22.05 570,22.5C575.83,22.95 577.08,22.7 585,23.7C592.92,24.7 608.33,27.12 617.5,28.5C626.67,29.88 630.33,30.93 640,32C649.67,33.07 669.58,34.42 675.5,34.9" stroke="#0000ff" stroke-width="1.2"/><path d="M501.5,20.3C504.37,20.42 512.4,20.9 518.7,21C525,21.1 532.88,21.27 539.3,20.9C545.72,20.53 551.25,18.87 557.2,18.8C563.15,18.73 569.53,19.97 575,20.5C580.47,21.03 585,21.25 590,22C595,22.75 600.42,24.2 605,25C609.58,25.8 611.67,26.13 617.5,26.8C623.33,27.47 632.92,28.47 640,29C647.08,29.53 654.08,29.75 660,30C665.92,30.25 672.92,30.42 675.5,30.5" stroke="#0000ff" stroke-width="1.2"/><path d="M501.5,24.3C504.37,24.2 513.12,23.92 518.7,23.7C524.28,23.48 529.78,23.28 535,23C540.22,22.72 544.68,22.4 550,22C555.32,21.6 562.57,20.83 566.9,20.6C571.23,20.37 574.48,20.6 576,20.6" stroke="#0000ff" stroke-width="1.2"/><path d="M501.5,26.9C504.58,26.95 514.85,27.4 520,27.2C525.15,27 528.03,26.4 532.4,25.7C536.77,25 542.1,23.78 546.2,23C550.3,22.22 555.2,21.33 557,21" stroke="#0000ff" stroke-width="1.2"/><path d="M501.5,28.5C504.37,28.5 513.12,28.67 518.7,28.5C524.28,28.33 529.78,28 535,27.5C540.22,27 544.17,26.08 550,25.5C555.83,24.92 563.33,24 570,24C576.67,24 584.17,24.92 590,25.5C595.83,26.08 600.42,27 605,27.5C609.58,28 611.67,27.92 617.5,28.5C623.33,29.08 632.92,30.17 640,31C647.08,31.83 654.08,32.83 660,33.5C665.92,34.17 672.92,34.75 675.5,35" stroke="#0000ff" stroke-width="1.2"/><path d="M501.5,36.1C503.22,35.87 507.78,35.17 511.8,34.7C515.82,34.23 521.02,33.42 525.6,33.3C530.18,33.18 534.72,33.42 539.3,34C543.88,34.58 547.98,35.63 553.1,36.8C558.22,37.97 563.85,39.47 570,41C576.15,42.53 584.17,44.75 590,46C595.83,47.25 600.42,47.87 605,48.5C609.58,49.13 613.2,50.73 617.5,49.8C621.8,48.87 626.37,45.38 630.8,42.9C635.23,40.42 639.67,38 644.1,34.9C648.53,31.8 652.97,27.18 657.4,24.3C661.83,21.42 667.68,18.93 670.7,17.6C673.72,16.27 674.7,16.52 675.5,16.3" stroke="#0000ff" stroke-width="1.2"/><path d="M501.5,37.5C504.58,37.42 513.58,37 520,37C526.42,37 534.82,37.5 540,37.5C545.18,37.5 544.82,36.1 551.1,37C557.38,37.9 568.83,40.98 577.7,42.9C586.57,44.82 597.67,47.27 604.3,48.5C610.93,49.73 613.05,50.72 617.5,50.3C621.95,49.88 626.57,48.05 631,46C635.43,43.95 639.7,40.83 644.1,38C648.5,35.17 652.17,31.85 657.4,29C662.63,26.15 672.48,22.25 675.5,20.9" stroke="#0000ff" stroke-width="1.2"/><path d="M501.5,41.5C507.57,41.28 528.15,39.95 537.9,40.2C547.65,40.45 553.37,41.9 560,43C566.63,44.1 570.32,45.5 577.7,46.8C585.08,48.1 597.67,50.22 604.3,50.8C610.93,51.38 613.22,49.93 617.5,50.3C621.78,50.67 625.57,51.8 630,53C634.43,54.2 639.1,56.25 644.1,57.5C649.1,58.75 654.77,59.48 660,60.5C665.23,61.52 672.92,63.08 675.5,63.6" stroke="#0000ff" stroke-width="1.2"/><path d="M501.5,42.9C507.57,42.72 528.15,41.45 537.9,41.8C547.65,42.15 552.98,43.88 560,45C567.02,46.12 572.62,47.5 580,48.5C587.38,49.5 598.05,50.62 604.3,51C610.55,51.38 613.22,50.22 617.5,50.8C621.78,51.38 625.57,53.17 630,54.5C634.43,55.83 639.1,57.55 644.1,58.8C649.1,60.05 654.77,61 660,62C665.23,63 672.92,64.33 675.5,64.8" stroke="#0000ff" stroke-width="1.2"/><path d="M528,2.5C529.65,3.25 532.93,4.52 537.9,7C542.87,9.48 551.17,13.9 557.8,17.4C564.43,20.9 571.07,24.45 577.7,28C584.33,31.55 590.97,35.12 597.6,38.7C604.23,42.28 612.1,47.37 617.5,49.5C622.9,51.63 625.42,50.5 630,51.5C634.58,52.5 640,54.17 645,55.5C650,56.83 654.92,58.37 660,59.5C665.08,60.63 672.92,61.83 675.5,62.3" stroke="#0000ff" stroke-width="1.2"/><path d="M529.5,2.5C531.15,3.25 534.43,4.52 539.4,7C544.37,9.48 552.67,13.9 559.3,17.4C565.93,20.9 572.58,24.42 579.2,28C585.82,31.58 592.62,35.25 599,38.9C605.38,42.55 612.17,48.88 617.5,49.9C622.83,50.92 626.5,47.23 631,45C635.5,42.77 640,39.67 644.5,36.5C649,33.33 653.63,28.98 658,26C662.37,23.02 667.78,20.02 670.7,18.6C673.62,17.18 674.7,17.68 675.5,17.5" stroke="#0000ff" stroke-width="1.2"/><path d="M553.1,36.8C554.25,36.45 556.55,35.85 560,34.7C563.45,33.55 570.35,30.82 573.8,29.9C577.25,28.98 577.17,29.18 580.7,29.2C584.23,29.22 590.95,29.53 595,30C599.05,30.47 601.25,31.5 605,32C608.75,32.5 612.5,32.33 617.5,33C622.5,33.67 628.75,35.25 635,36C641.25,36.75 648.25,37.08 655,37.5C661.75,37.92 672.08,38.33 675.5,38.5" stroke="#0000ff" stroke-width="1.2"/><path d="M626.3,7.1C629.75,7.8 641.25,10.03 647,11.3C652.75,12.57 656.05,13.78 660.8,14.7C665.55,15.62 673.05,16.45 675.5,16.8" stroke="#0000ff" stroke-width="1.2"/><path d="M649.8,38C651.63,36.53 656.52,32.05 660.8,29.2C665.08,26.35 673.05,22.28 675.5,20.9" stroke="#0000ff" stroke-width="1.2"/><path d="M642.9,38C644.73,36.77 650.47,32.98 653.9,30.6C657.33,28.22 659.9,25.77 663.5,23.7C667.1,21.63 673.5,19.12 675.5,18.2" stroke="#0000ff" stroke-width="1.2"/><path d="M617.5,31C620.42,32.17 628.75,36.5 635,38C641.25,39.5 648.25,39.83 655,40C661.75,40.17 672.08,39.17 675.5,39" stroke="#0000ff" stroke-width="1.2"/><path d="M617.5,32C621.25,33.33 632.92,38.33 640,40C647.08,41.67 654.08,41.75 660,42C665.92,42.25 672.92,41.58 675.5,41.5" stroke="#0000ff" stroke-width="1.2"/><path d="M501.5,116.8C505.52,116.92 517,116.7 525.6,117.5C534.2,118.3 542.2,119.98 553.1,121.6C564,123.22 582.35,125.88 591,127.2C599.65,128.52 600.58,128.78 605,129.5C609.42,130.22 611.67,130.75 617.5,131.5C623.33,132.25 633.92,132.88 640,134C646.08,135.12 648.08,136.93 654,138.2C659.92,139.47 671.92,141.03 675.5,141.6" stroke="#0000ff" stroke-width="1.2"/><path d="M501.5,117.8C505.52,117.98 517,117.8 525.6,118.9C534.2,120 542.2,122.22 553.1,124.4C564,126.58 582.35,130.57 591,132C599.65,133.43 600.58,132.77 605,133C609.42,133.23 611.67,133.33 617.5,133.4C623.33,133.47 633.92,133.63 640,133.4C646.08,133.17 648.08,132.58 654,132C659.92,131.42 671.92,130.25 675.5,129.9" stroke="#0000ff" stroke-width="1.2"/><path d="M501.5,119.6C505.52,119.83 517,119.73 525.6,121C534.2,122.27 544.87,125.2 553.1,127.2C561.33,129.2 568.68,131.4 575,133C581.32,134.6 586,136.22 591,136.8C596,137.38 600.58,136.5 605,136.5C609.42,136.5 611.67,136.83 617.5,136.8C623.33,136.77 630.33,136.42 640,136.3C649.67,136.18 669.58,136.13 675.5,136.1" stroke="#0000ff" stroke-width="1.2"/><path d="M501.5,117.8C502.25,117.88 502.42,117.4 506,118.3C509.58,119.2 517.33,121.25 523,123.2C528.67,125.15 534.83,126.37 540,130C545.17,133.63 549.67,140 554,145C558.33,150 560.5,153.33 566,160C571.5,166.67 580,176.67 587,185C594,193.33 604.08,205.33 608,210C611.92,214.67 610.08,212.5 610.5,213" stroke="#0000ff" stroke-width="1.2"/><path d="M501.5,120.5C502.25,120.58 503.25,120.33 506,121C508.75,121.67 514,123 518,124.5C522,126 525.67,126.58 530,130C534.33,133.42 539.67,140 544,145C548.33,150 550.67,153.33 556,160C561.33,166.67 569.33,176.67 576,185C582.67,193.33 592.25,205.33 596,210C599.75,214.67 598.08,212.5 598.5,213" stroke="#0000ff" stroke-width="1.2"/><path d="M501.5,122.3C502.25,122.38 503.75,122.28 506,122.8C508.25,123.32 512,124.2 515,125.4C518,126.6 520.25,126.73 524,130C527.75,133.27 533.33,140 537.5,145C541.67,150 541.67,153.33 549,160C556.33,166.67 570.67,176.67 581.5,185C592.33,193.33 608.17,205.33 614,210C619.83,214.67 616.08,212.5 616.5,213" stroke="#0000ff" stroke-width="1.2"/><path d="M501.5,123C502.25,123.08 504.08,123.03 506,123.5C507.92,123.97 510.67,124.72 513,125.8C515.33,126.88 516.58,126.8 520,130C523.42,133.2 529.33,140 533.5,145C537.67,150 539.33,153.33 545,160C550.67,166.67 560,176.67 567.5,185C575,193.33 585.83,205.33 590,210C594.17,214.67 592.08,212.5 592.5,213" stroke="#0000ff" stroke-width="1.2"/><path d="M501.5,125.1C502.25,125.18 504.58,125.32 506,125.6C507.42,125.88 508.67,126.07 510,126.8C511.33,127.53 511,126.97 514,130C517,133.03 523.67,140 528,145C532.33,150 534.83,153.33 540,160C545.17,166.67 552.67,176.67 559,185C565.33,193.33 574.42,205.33 578,210C581.58,214.67 580.08,212.5 580.5,213" stroke="#0000ff" stroke-width="1.2"/><path d="M501.5,132C502.25,132.08 500.67,130.67 506,132.5C511.33,134.33 526.58,140.92 533.5,143C540.42,145.08 542.92,142.17 547.5,145C552.08,147.83 556.83,153.33 561,160C565.17,166.67 568.67,176.67 572.5,185C576.33,193.33 581.67,205.33 584,210C586.33,214.67 586.08,212.5 586.5,213" stroke="#0000ff" stroke-width="1.2"/><path d="M501.5,134C502.25,134.08 499.25,132.83 506,134.5C512.75,136.17 533.33,142.25 542,144C550.67,145.75 552,142.33 558,145C564,147.67 571.25,153.33 578,160C584.75,166.67 591.67,176.67 598.5,185C605.33,193.33 615.17,205.33 619,210C622.83,214.67 621.08,212.5 621.5,213" stroke="#0000ff" stroke-width="1.2"/><path d="M501.5,136.8C502.25,136.88 499.92,135.87 506,137.3C512.08,138.73 529.67,144.12 538,145.4C546.33,146.68 550.67,142.57 556,145C561.33,147.43 565,153.33 570,160C575,166.67 580.67,176.67 586,185C591.33,193.33 598.92,205.33 602,210C605.08,214.67 604.08,212.5 604.5,213" stroke="#0000ff" stroke-width="1.2"/><path d="M501.5,125.5C506.25,125.92 520.25,126.75 530,128C539.75,129.25 549.83,131.17 560,133C570.17,134.83 581.42,137.83 591,139C600.58,140.17 609.33,139.67 617.5,140C625.67,140.33 632.92,140.5 640,141C647.08,141.5 654.08,142.5 660,143C665.92,143.5 672.92,143.83 675.5,144" stroke="#0000ff" stroke-width="1.2"/><path d="M501.5,126.5C506.25,127.08 520.25,128.33 530,130C539.75,131.67 549.83,134.5 560,136.5C570.17,138.5 581.42,141.25 591,142C600.58,142.75 609.33,140.5 617.5,141C625.67,141.5 632.92,143.83 640,145C647.08,146.17 654.08,147.17 660,148C665.92,148.83 672.92,149.67 675.5,150" stroke="#0000ff" stroke-width="1.2"/><path d="M501.5,128.5C504.58,128.75 513.58,128.92 520,130C526.42,131.08 533.33,133.33 540,135C546.67,136.67 551.5,138.17 560,140C568.5,141.83 583.5,145 591,146C598.5,147 600.58,146.17 605,146C609.42,145.83 611.67,144.83 617.5,145C623.33,145.17 630.33,146.5 640,147C649.67,147.5 669.58,147.83 675.5,148" stroke="#0000ff" stroke-width="1.2"/><path d="M501.5,127.2C504.37,127.42 513.55,127.37 518.7,128.5C523.85,129.63 527.82,131.93 532.4,134C536.98,136.07 542.28,138.73 546.2,140.9C550.12,143.07 551.93,144.48 555.9,147C559.87,149.52 564.32,152.67 570,156C575.68,159.33 584.17,163.33 590,167C595.83,170.67 600.42,174.33 605,178C609.58,181.67 612.8,187.62 617.5,189C622.2,190.38 628.28,187.22 633.2,186.3C638.12,185.38 639.95,184.2 647,183.5C654.05,182.8 670.75,182.33 675.5,182.1" stroke="#0000ff" stroke-width="1.2"/><path d="M501.5,121.5C504.25,121.92 512.92,122.58 518,124C523.08,125.42 527.33,127.58 532,130C536.67,132.42 541.33,135.5 546,138.5C550.67,141.5 556,144.92 560,148C564,151.08 566.5,153.67 570,157C573.5,160.33 577.5,164.5 581,168C584.5,171.5 587,174.67 591,178C595,181.33 600.58,185 605,188C609.42,191 613.33,193.83 617.5,196C621.67,198.17 625.42,199.67 630,201C634.58,202.33 640,203.67 645,204C650,204.33 654.92,203.33 660,203C665.08,202.67 672.92,202.17 675.5,202" stroke="#0000ff" stroke-width="1.2"/><path d="M501.5,154.9C504.37,154.4 513.08,152.87 518.7,151.9C524.32,150.93 530.65,150.17 535.2,149.1C539.75,148.03 541.87,146.85 546,145.5C550.13,144.15 555.17,142.33 560,141C564.83,139.67 570,138.42 575,137.5C580,136.58 585,135.92 590,135.5C595,135.08 600.42,135.25 605,135C609.58,134.75 611.67,134.08 617.5,134C623.33,133.92 632.92,134.17 640,134.5C647.08,134.83 654.08,135.5 660,136C665.92,136.5 672.92,137.25 675.5,137.5" stroke="#0000ff" stroke-width="1.2"/><path d="M501.5,156.7C504.37,156.35 512.4,155.52 518.7,154.6C525,153.68 533.57,152.33 539.3,151.2C545.03,150.07 548.32,149.08 553.1,147.8C557.88,146.52 562.68,144.8 568,143.5C573.32,142.2 579.67,140.83 585,140C590.33,139.17 594.58,138.8 600,138.5C605.42,138.2 610.83,138.28 617.5,138.2C624.17,138.12 632.92,138.03 640,138C647.08,137.97 654.08,138.08 660,138C665.92,137.92 672.92,137.58 675.5,137.5" stroke="#0000ff" stroke-width="1.2"/><path d="M501.5,157.7C505.52,157.77 518.15,158.03 525.6,158.1C533.05,158.17 540.47,158.33 546.2,158.1C551.93,157.87 555.2,157.22 560,156.7C564.8,156.18 569.83,155.57 575,155C580.17,154.43 586,154.13 591,153.3C596,152.47 600.58,151.15 605,150C609.42,148.85 612.83,147.07 617.5,146.4C622.17,145.73 627.58,145.9 633,146C638.42,146.1 642.92,147 650,147C657.08,147 671.25,146.17 675.5,146" stroke="#0000ff" stroke-width="1.2"/><path d="M501.5,158.8C505.42,158.83 516.42,158.88 525,159C533.58,159.12 544.67,159.33 553,159.5C561.33,159.67 568,160 575,160C582,160 587.92,159.82 595,159.5C602.08,159.18 610,158.52 617.5,158.1C625,157.68 632.92,157.52 640,157C647.08,156.48 654.08,155.5 660,155C665.92,154.5 672.92,154.17 675.5,154" stroke="#0000ff" stroke-width="1.2"/><path d="M501.5,162.9C505.52,162.78 518.18,162.02 525.6,162.2C533.02,162.38 541.1,163.45 546,164C550.9,164.55 551,165.67 555,165.5C559,165.33 564.17,164.08 570,163C575.83,161.92 584.17,160 590,159C595.83,158 600.42,157.38 605,157C609.58,156.62 611.67,156.2 617.5,156.7C623.33,157.2 632.92,158.78 640,160C647.08,161.22 654.08,163 660,164C665.92,165 672.92,165.67 675.5,166" stroke="#0000ff" stroke-width="1.2"/><path d="M501.5,164.3C504.58,164.42 513.75,164.63 520,165C526.25,165.37 533.5,166.42 539,166.5C544.5,166.58 547.83,166.58 553,165.5C558.17,164.42 563.83,161.75 570,160C576.17,158.25 584.17,156.33 590,155C595.83,153.67 600.42,152.98 605,152C609.58,151.02 612.5,149.43 617.5,149.1C622.5,148.77 628.75,149.43 635,150C641.25,150.57 648.25,152 655,152.5C661.75,153 672.08,152.92 675.5,153" stroke="#0000ff" stroke-width="1.2"/><path d="M501.5,167C504.37,167.08 512.4,166.83 518.7,167.5C525,168.17 533.58,170.67 539.3,171C545.02,171.33 548.4,170.38 553,169.5C557.6,168.62 561.57,167.12 566.9,165.7C572.23,164.28 579.48,162.2 585,161C590.52,159.8 594.58,158.87 600,158.5C605.42,158.13 610.83,158.22 617.5,158.8C624.17,159.38 632.92,161.05 640,162C647.08,162.95 654.08,164 660,164.5C665.92,165 672.92,164.92 675.5,165" stroke="#0000ff" stroke-width="1.2"/><path d="M501.5,170.5C503.22,170.85 507.78,171.45 511.8,172.6C515.82,173.75 521.93,176.48 525.6,177.4C529.27,178.32 530.37,178.68 533.8,178.1C537.23,177.52 541.83,175.28 546.2,173.9C550.57,172.52 555.2,171.12 560,169.8C564.8,168.48 570,167.13 575,166C580,164.87 585,163.83 590,163C595,162.17 600.42,161.47 605,161C609.58,160.53 611.67,160.2 617.5,160.2C623.33,160.2 632.92,160.7 640,161C647.08,161.3 654.08,161.75 660,162C665.92,162.25 672.92,162.42 675.5,162.5" stroke="#0000ff" stroke-width="1.2"/><path d="M585,172.6C587.3,171.67 593.38,168.27 598.8,167C604.22,165.73 611.8,165.17 617.5,165C623.2,164.83 628.08,165.58 633,166C637.92,166.42 642.5,167.08 647,167.5C651.5,167.92 655.25,168.25 660,168.5C664.75,168.75 672.92,168.92 675.5,169" stroke="#0000ff" stroke-width="1.2"/><path d="M501.5,180.1C505.52,180.1 518.15,179.88 525.6,180.1C533.05,180.32 540.47,181.28 546.2,181.4C551.93,181.52 556.1,181.37 560,180.8C563.9,180.23 566.27,179.47 569.6,178C572.93,176.53 576.27,174.17 580,172C583.73,169.83 587.83,166.67 592,165C596.17,163.33 600.75,162.47 605,162C609.25,161.53 611.67,162.03 617.5,162.2C623.33,162.37 632.92,162.7 640,163C647.08,163.3 654.08,163.67 660,164C665.92,164.33 672.92,164.83 675.5,165" stroke="#0000ff" stroke-width="1.2"/><path d="M501.5,188.3C504.37,187.97 512.4,187.33 518.7,186.3C525,185.27 533.1,183.48 539.3,182.1C545.5,180.72 550.78,179.52 555.9,178C561.02,176.48 565.15,174.67 570,173C574.85,171.33 580,169.5 585,168C590,166.5 594.58,165.25 600,164C605.42,162.75 610.83,161.5 617.5,160.5C624.17,159.5 632.92,157.92 640,158C647.08,158.08 654.08,160.17 660,161C665.92,161.83 672.92,162.67 675.5,163" stroke="#0000ff" stroke-width="1.2"/><path d="M501.5,190.4C505.52,190.17 518.18,189.9 525.6,189C533.02,188.1 539.1,186.67 546,185C552.9,183.33 560.5,181.17 567,179C573.5,176.83 579.5,174.17 585,172C590.5,169.83 594.58,167.58 600,166C605.42,164.42 614.58,163.08 617.5,162.5" stroke="#0000ff" stroke-width="1.2"/><path d="M501.5,195.9C504.37,195.67 512.4,195.42 518.7,194.5C525,193.58 532.42,192 539.3,190.4C546.18,188.8 554.25,186.97 560,184.9C565.75,182.83 569.63,179.98 573.8,178C577.97,176.02 580.63,174.67 585,173C589.37,171.33 594.58,169.33 600,168C605.42,166.67 614.58,165.5 617.5,165" stroke="#0000ff" stroke-width="1.2"/><path d="M501.5,198.7C505.52,198.47 518.15,198.22 525.6,197.3C533.05,196.38 539.3,194.92 546.2,193.2C553.1,191.48 561.37,188.87 567,187C572.63,185.13 576,183.5 580,182C584,180.5 586.83,179.67 591,178C595.17,176.33 600.58,173.67 605,172C609.42,170.33 615.42,168.67 617.5,168" stroke="#0000ff" stroke-width="1.2"/><path d="M501.5,204.2C504.37,203.97 512.4,203.72 518.7,202.8C525,201.88 532.42,200.3 539.3,198.7C546.18,197.1 554.25,195.27 560,193.2C565.75,191.13 569.22,188.5 573.8,186.3C578.38,184.1 583.33,181.88 587.5,180C591.67,178.12 593.8,176.25 598.8,175C603.8,173.75 610.63,172.42 617.5,172.5C624.37,172.58 632.92,175 640,175.5C647.08,176 654.08,175.62 660,175.5C665.92,175.38 672.92,174.92 675.5,174.8" stroke="#0000ff" stroke-width="1.2"/><path d="M501.5,205.6C504.37,205.6 512.4,206.3 518.7,205.6C525,204.9 532.42,203.02 539.3,201.4C546.18,199.78 553.12,197.73 560,195.9C566.88,194.07 574.77,192.05 580.6,190.4C586.43,188.75 590.93,187.4 595,186C599.07,184.6 601.25,183.33 605,182C608.75,180.67 613,178.75 617.5,178C622,177.25 627.42,177.67 632,177.5C636.58,177.33 640.33,177.17 645,177C649.67,176.83 654.92,176.62 660,176.5C665.08,176.38 672.92,176.33 675.5,176.3" stroke="#0000ff" stroke-width="1.2"/><path d="M511.8,211C515.23,210.1 525.52,207.65 532.4,205.6C539.28,203.55 546.2,201 553.1,198.7C560,196.4 567.48,193.87 573.8,191.8C580.12,189.73 585.8,187.6 591,186.3C596.2,185 600.58,184.55 605,184C609.42,183.45 615.42,183.17 617.5,183" stroke="#0000ff" stroke-width="1.2"/><path d="M522.8,211C525.55,210.1 533.1,207.43 539.3,205.6C545.5,203.77 554.05,201.6 560,200C565.95,198.4 570,197.17 575,196C580,194.83 587.5,193.5 590,193" stroke="#0000ff" stroke-width="1.2"/><path d="M530,204C531.55,203.33 534.3,201.35 539.3,200C544.3,198.65 554.25,196.58 560,195.9C565.75,195.22 568.63,195.55 573.8,195.9C578.97,196.25 586.63,197.32 591,198C595.37,198.68 595.58,199.58 600,200C604.42,200.42 610.83,200.58 617.5,200.5C624.17,200.42 630.33,200.25 640,199.5C649.67,198.75 669.58,196.58 675.5,196" stroke="#0000ff" stroke-width="1.2"/><path d="M535,206C536.87,205.35 542.03,202.87 546.2,202.1C550.37,201.33 554.27,201.17 560,201.4C565.73,201.63 575.43,202.92 580.6,203.5C585.77,204.08 586.93,204.48 591,204.9C595.07,205.32 600.58,205.73 605,206C609.42,206.27 615.42,206.42 617.5,206.5" stroke="#0000ff" stroke-width="1.2"/><path d="M585,183.5C590.42,184.65 608.33,189.48 617.5,190.4C626.67,191.32 630.33,190.03 640,189C649.67,187.97 669.58,185 675.5,184.2" stroke="#0000ff" stroke-width="1.2"/><path d="M585,186.3C590.42,187.22 608.33,190.43 617.5,191.8C626.67,193.17 630.33,194.73 640,194.5C649.67,194.27 669.58,191.08 675.5,190.4" stroke="#0000ff" stroke-width="1.2"/><path d="M600,193C602.92,193.08 611.97,192.78 617.5,193.5C623.03,194.22 628.28,195.98 633.2,197.3C638.12,198.62 642.4,200.48 647,201.4C651.6,202.32 656.05,203.03 660.8,202.8C665.55,202.57 673.05,200.47 675.5,200" stroke="#0000ff" stroke-width="1.2"/><path d="M585,193.2C587.3,193.67 593.38,195.08 598.8,196C604.22,196.92 610.63,198.48 617.5,198.7C624.37,198.92 630.33,198.22 640,197.3C649.67,196.38 669.58,193.88 675.5,193.2" stroke="#0000ff" stroke-width="1.2"/><path d="M617.5,211C618.92,210.77 622.25,210.28 626,209.6C629.75,208.92 635.35,207.8 640,206.9C644.65,206 647.98,205.27 653.9,204.2C659.82,203.13 671.9,201.12 675.5,200.5" stroke="#0000ff" stroke-width="1.2"/><path d="M630,211C632.83,210.1 641.87,206.85 647,205.6C652.13,204.35 656.05,204.1 660.8,203.5C665.55,202.9 673.05,202.25 675.5,202" stroke="#0000ff" stroke-width="1.2"/><path d="M617.5,153.3C621.25,153.42 632.92,153.8 640,154C647.08,154.2 654.08,154.33 660,154.5C665.92,154.67 672.92,154.92 675.5,155" stroke="#0000ff" stroke-width="1.2"/><path d="M617.5,156.7C621.25,157 632.92,157.78 640,158.5C647.08,159.22 654.08,160.25 660,161C665.92,161.75 672.92,162.67 675.5,163" stroke="#0000ff" stroke-width="1.2"/><path d="M617.5,160.2C621.25,160.67 632.92,161.95 640,163C647.08,164.05 654.08,165.67 660,166.5C665.92,167.33 672.92,167.75 675.5,168" stroke="#0000ff" stroke-width="1.2"/><path d="M617.5,148C621.25,148.33 632.92,150 640,150C647.08,150 654.08,148.42 660,148C665.92,147.58 672.92,147.58 675.5,147.5" stroke="#0000ff" stroke-width="1.2"/></g><g clip-path="url(#clipb)"><defs><clipPath id="clipb"><rect x="260.0" y="34.5" width="192.5" height="175.1"/></clipPath></defs><path d="M260.5,210.2C263.75,210.17 275.42,210.22 280,210C284.58,209.78 285.83,209.35 288,208.9C290.17,208.45 291,207.75 293,207.3C295,206.85 297.67,206.55 300,206.2C302.33,205.85 305,205.5 307,205.2C309,204.9 310.33,204.73 312,204.4C313.67,204.07 315.5,203.68 317,203.2C318.5,202.72 319.67,202.2 321,201.5C322.33,200.8 323.67,200.08 325,199C326.33,197.92 327.83,196.03 329,195C330.17,193.97 330.83,193.38 332,192.8C333.17,192.22 334.67,191.97 336,191.5C337.33,191.03 338.75,190.67 340,190C341.25,189.33 342.5,188.58 343.5,187.5C344.5,186.42 345.25,185.25 346,183.5C346.75,181.75 347.33,179.25 348,177C348.67,174.75 349.25,172.83 350,170C350.75,167.17 351.67,163.67 352.5,160C353.33,156.33 354.17,152 355,148C355.83,144 356.67,140.17 357.5,136C358.33,131.83 359.08,128 360,123C360.92,118 362.08,111.67 363,106C363.92,100.33 364.75,93.33 365.5,89C366.25,84.67 366.75,83.33 367.5,80C368.25,76.67 369.13,72 370,69C370.87,66 371.95,62.92 372.7,62C373.45,61.08 373.87,63.83 374.5,63.5C375.13,63.17 375.75,62.25 376.5,60C377.25,57.75 378.17,53.33 379,50C379.83,46.67 380.75,42.17 381.5,40C382.25,37.83 382.83,37 383.5,37C384.17,37 384.83,37.5 385.5,40C386.17,42.5 386.83,47.67 387.5,52C388.17,56.33 388.83,62.42 389.5,66C390.17,69.58 390.83,72.5 391.5,73.5C392.17,74.5 392.83,73.92 393.5,72C394.17,70.08 394.83,65.67 395.5,62C396.17,58.33 396.95,52.5 397.5,50C398.05,47.5 398.3,47 398.8,47C399.3,47 399.88,47.83 400.5,50C401.12,52.17 401.83,56.33 402.5,60C403.17,63.67 403.92,67.33 404.5,72C405.08,76.67 405.5,82.83 406,88C406.5,93.17 407,98.83 407.5,103C408,107.17 408.42,110.75 409,113C409.58,115.25 410.17,115.73 411,116.5C411.83,117.27 413.08,116.68 414,117.6C414.92,118.52 415.77,120.35 416.5,122C417.23,123.65 417.82,126.92 418.4,127.5C418.98,128.08 419.4,126.58 420,125.5C420.6,124.42 421.25,122.62 422,121C422.75,119.38 423.75,115.97 424.5,115.8C425.25,115.63 425.83,117.63 426.5,120C427.17,122.37 427.75,125.67 428.5,130C429.25,134.33 430.08,142.33 431,146C431.92,149.67 433,150.58 434,152C435,153.42 436,153.95 437,154.5C438,155.05 439,155.67 440,155.3C441,154.93 442.08,152.35 443,152.3C443.92,152.25 444.58,153.8 445.5,155C446.42,156.2 447.33,158.08 448.5,159.5C449.67,160.92 451.83,162.83 452.5,163.5L452.5,210.0L260.5,210.0Z" fill="#008000" fill-opacity="0.1" stroke="none"/><path d="M260.5,210.2C264.58,210.17 279.58,210.13 285,210C290.42,209.87 290.83,209.63 293,209.4C295.17,209.17 296.17,208.78 298,208.6C299.83,208.42 302,208.48 304,208.3C306,208.12 307.87,207.75 310,207.5C312.13,207.25 314.8,206.95 316.8,206.8C318.8,206.65 320.35,206.73 322,206.6C323.65,206.47 325.27,206.4 326.7,206C328.13,205.6 329.38,204.95 330.6,204.2C331.82,203.45 333.02,202.15 334,201.5C334.98,200.85 335.75,200.42 336.5,200.3C337.25,200.18 337.83,200.68 338.5,200.8C339.17,200.92 339.67,201.02 340.5,201C341.33,200.98 342.53,200.82 343.5,200.7C344.47,200.58 345.05,200.65 346.3,200.3C347.55,199.95 349.48,199.22 351,198.6C352.52,197.98 353.77,197.62 355.4,196.6C357.03,195.58 359.37,193.93 360.8,192.5C362.23,191.07 362.92,189.63 364,188C365.08,186.37 366.13,184.7 367.3,182.7C368.47,180.7 369.92,178.03 371,176C372.08,173.97 372.97,172.33 373.8,170.5C374.63,168.67 375.27,166.75 376,165C376.73,163.25 377.43,161.92 378.2,160C378.97,158.08 379.8,155.58 380.6,153.5C381.4,151.42 382.27,148.92 383,147.5C383.73,146.08 384.33,145.67 385,145C385.67,144.33 386.33,144.92 387,143.5C387.67,142.08 388.42,138.5 389,136.5C389.58,134.5 389.92,133.08 390.5,131.5C391.08,129.92 391.85,128.17 392.5,127C393.15,125.83 393.87,125.03 394.4,124.5C394.93,123.97 395.18,123.47 395.7,123.8C396.22,124.13 396.9,125.38 397.5,126.5C398.1,127.62 398.72,129.75 399.3,130.5C399.88,131.25 400.47,131.25 401,131C401.53,130.75 402,130.42 402.5,129C403,127.58 403.5,124.25 404,122.5C404.5,120.75 404.92,118.97 405.5,118.5C406.08,118.03 406.83,120.53 407.5,119.7C408.17,118.87 408.92,116.28 409.5,113.5C410.08,110.72 410.5,107.25 411,103C411.5,98.75 411.95,92.17 412.5,88C413.05,83.83 413.72,78.83 414.3,78C414.88,77.17 415.42,81.08 416,83C416.58,84.92 417.17,88.2 417.8,89.5C418.43,90.8 419.1,89.72 419.8,90.8C420.5,91.88 421.22,93.88 422,96C422.78,98.12 423.72,101.45 424.5,103.5C425.28,105.55 426.03,108.22 426.7,108.3C427.37,108.38 427.87,106.72 428.5,104C429.13,101.28 429.88,96.33 430.5,92C431.12,87.67 431.72,82 432.2,78C432.68,74 433.02,71.33 433.4,68C433.78,64.67 434.13,61.5 434.5,58C434.87,54.5 435.27,50.03 435.6,47C435.93,43.97 436.18,41.55 436.5,39.8C436.82,38.05 437.17,36.5 437.5,36.5C437.83,36.5 438.17,38.05 438.5,39.8C438.83,41.55 439.15,43.63 439.5,47C439.85,50.37 440.25,55.33 440.6,60C440.95,64.67 441.27,69.83 441.6,75C441.93,80.17 442.23,86.5 442.6,91C442.97,95.5 443.23,99.95 443.8,102C444.37,104.05 445.25,103.33 446,103.3C446.75,103.27 447.63,101.35 448.3,101.8C448.97,102.25 449.3,103.88 450,106C450.7,108.12 452.08,113.08 452.5,114.5L452.5,210.0L260.5,210.0Z" fill="#0000ff" fill-opacity="0.2" stroke="none"/><path d="M260.5,210.2C262.42,210.18 269.42,210.22 272,210.1C274.58,209.98 274.83,209.7 276,209.5C277.17,209.3 278,208.92 279,208.9C280,208.88 280.67,209.22 282,209.4C283.33,209.58 285.33,210.15 287,210C288.67,209.85 290.5,209.17 292,208.5C293.5,207.83 294.67,206.63 296,206C297.33,205.37 298.67,204.7 300,204.7C301.33,204.7 302.67,205.52 304,206C305.33,206.48 306.67,207.27 308,207.6C309.33,207.93 310.83,208.1 312,208C313.17,207.9 314,207.83 315,207C316,206.17 317,204.42 318,203C319,201.58 320.05,199.58 321,198.5C321.95,197.42 322.78,196.42 323.7,196.5C324.62,196.58 325.45,198.25 326.5,199C327.55,199.75 328.75,200.75 330,201C331.25,201.25 332.67,200.78 334,200.5C335.33,200.22 336.67,199.88 338,199.3C339.33,198.72 340.75,197.97 342,197C343.25,196.03 344.5,195 345.5,193.5C346.5,192 347.17,189.58 348,188C348.83,186.42 349.67,184.88 350.5,184C351.33,183.12 352,182.95 353,182.7C354,182.45 355.42,182.7 356.5,182.5C357.58,182.3 358.58,182.58 359.5,181.5C360.42,180.42 361.25,178.08 362,176C362.75,173.92 363.25,171.67 364,169C364.75,166.33 365.67,162.5 366.5,160C367.33,157.5 368.08,155.5 369,154C369.92,152.5 370.83,151.58 372,151C373.17,150.42 374.67,150.62 376,150.5C377.33,150.38 378.92,150.8 380,150.3C381.08,149.8 381.75,149.88 382.5,147.5C383.25,145.12 383.83,140.42 384.5,136C385.17,131.58 385.83,125.83 386.5,121C387.17,116.17 387.75,111.17 388.5,107C389.25,102.83 390.12,98.67 391,96C391.88,93.33 392.97,90.67 393.8,91C394.63,91.33 395.38,94.5 396,98C396.62,101.5 397.08,108.25 397.5,112C397.92,115.75 398.08,118.92 398.5,120.5C398.92,122.08 399.33,122.08 400,121.5C400.67,120.92 401.83,117.58 402.5,117C403.17,116.42 403.5,116.67 404,118C404.5,119.33 404.92,122.33 405.5,125C406.08,127.67 406.8,131.83 407.5,134C408.2,136.17 409.03,138 409.7,138C410.37,138 410.95,135.83 411.5,134C412.05,132.17 412.25,130.33 413,127C413.75,123.67 415,119.5 416,114C417,108.5 418.08,101 419,94C419.92,87 420.75,79.33 421.5,72C422.25,64.67 422.8,55.92 423.5,50C424.2,44.08 425.03,36.83 425.7,36.5C426.37,36.17 426.9,42.08 427.5,48C428.1,53.92 428.8,63.33 429.3,72C429.8,80.67 430.13,92.33 430.5,100C430.87,107.67 431,113.42 431.5,118C432,122.58 432.8,125.25 433.5,127.5C434.2,129.75 434.95,131.42 435.7,131.5C436.45,131.58 437.2,129.5 438,128C438.8,126.5 439.62,124.05 440.5,122.5C441.38,120.95 442.38,119.62 443.3,118.7C444.22,117.78 445.1,117.4 446,117C446.9,116.6 447.62,116.05 448.7,116.3C449.78,116.55 451.87,118.13 452.5,118.5L452.5,210.0L260.5,210.0Z" fill="#ff0000" fill-opacity="0.1" stroke="none"/><path d="M260.5,210.2C263.75,210.17 275.42,210.22 280,210C284.58,209.78 285.83,209.35 288,208.9C290.17,208.45 291,207.75 293,207.3C295,206.85 297.67,206.55 300,206.2C302.33,205.85 305,205.5 307,205.2C309,204.9 310.33,204.73 312,204.4C313.67,204.07 315.5,203.68 317,203.2C318.5,202.72 319.67,202.2 321,201.5C322.33,200.8 323.67,200.08 325,199C326.33,197.92 327.83,196.03 329,195C330.17,193.97 330.83,193.38 332,192.8C333.17,192.22 334.67,191.97 336,191.5C337.33,191.03 338.75,190.67 340,190C341.25,189.33 342.5,188.58 343.5,187.5C344.5,186.42 345.25,185.25 346,183.5C346.75,181.75 347.33,179.25 348,177C348.67,174.75 349.25,172.83 350,170C350.75,167.17 351.67,163.67 352.5,160C353.33,156.33 354.17,152 355,148C355.83,144 356.67,140.17 357.5,136C358.33,131.83 359.08,128 360,123C360.92,118 362.08,111.67 363,106C363.92,100.33 364.75,93.33 365.5,89C366.25,84.67 366.75,83.33 367.5,80C368.25,76.67 369.13,72 370,69C370.87,66 371.95,62.92 372.7,62C373.45,61.08 373.87,63.83 374.5,63.5C375.13,63.17 375.75,62.25 376.5,60C377.25,57.75 378.17,53.33 379,50C379.83,46.67 380.75,42.17 381.5,40C382.25,37.83 382.83,37 383.5,37C384.17,37 384.83,37.5 385.5,40C386.17,42.5 386.83,47.67 387.5,52C388.17,56.33 388.83,62.42 389.5,66C390.17,69.58 390.83,72.5 391.5,73.5C392.17,74.5 392.83,73.92 393.5,72C394.17,70.08 394.83,65.67 395.5,62C396.17,58.33 396.95,52.5 397.5,50C398.05,47.5 398.3,47 398.8,47C399.3,47 399.88,47.83 400.5,50C401.12,52.17 401.83,56.33 402.5,60C403.17,63.67 403.92,67.33 404.5,72C405.08,76.67 405.5,82.83 406,88C406.5,93.17 407,98.83 407.5,103C408,107.17 408.42,110.75 409,113C409.58,115.25 410.17,115.73 411,116.5C411.83,117.27 413.08,116.68 414,117.6C414.92,118.52 415.77,120.35 416.5,122C417.23,123.65 417.82,126.92 418.4,127.5C418.98,128.08 419.4,126.58 420,125.5C420.6,124.42 421.25,122.62 422,121C422.75,119.38 423.75,115.97 424.5,115.8C425.25,115.63 425.83,117.63 426.5,120C427.17,122.37 427.75,125.67 428.5,130C429.25,134.33 430.08,142.33 431,146C431.92,149.67 433,150.58 434,152C435,153.42 436,153.95 437,154.5C438,155.05 439,155.67 440,155.3C441,154.93 442.08,152.35 443,152.3C443.92,152.25 444.58,153.8 445.5,155C446.42,156.2 447.33,158.08 448.5,159.5C449.67,160.92 451.83,162.83 452.5,163.5" fill="none" stroke="#008000" stroke-width="1.5" stroke-linejoin="round"/><path d="M260.5,210.2C264.58,210.17 279.58,210.13 285,210C290.42,209.87 290.83,209.63 293,209.4C295.17,209.17 296.17,208.78 298,208.6C299.83,208.42 302,208.48 304,208.3C306,208.12 307.87,207.75 310,207.5C312.13,207.25 314.8,206.95 316.8,206.8C318.8,206.65 320.35,206.73 322,206.6C323.65,206.47 325.27,206.4 326.7,206C328.13,205.6 329.38,204.95 330.6,204.2C331.82,203.45 333.02,202.15 334,201.5C334.98,200.85 335.75,200.42 336.5,200.3C337.25,200.18 337.83,200.68 338.5,200.8C339.17,200.92 339.67,201.02 340.5,201C341.33,200.98 342.53,200.82 343.5,200.7C344.47,200.58 345.05,200.65 346.3,200.3C347.55,199.95 349.48,199.22 351,198.6C352.52,197.98 353.77,197.62 355.4,196.6C357.03,195.58 359.37,193.93 360.8,192.5C362.23,191.07 362.92,189.63 364,188C365.08,186.37 366.13,184.7 367.3,182.7C368.47,180.7 369.92,178.03 371,176C372.08,173.97 372.97,172.33 373.8,170.5C374.63,168.67 375.27,166.75 376,165C376.73,163.25 377.43,161.92 378.2,160C378.97,158.08 379.8,155.58 380.6,153.5C381.4,151.42 382.27,148.92 383,147.5C383.73,146.08 384.33,145.67 385,145C385.67,144.33 386.33,144.92 387,143.5C387.67,142.08 388.42,138.5 389,136.5C389.58,134.5 389.92,133.08 390.5,131.5C391.08,129.92 391.85,128.17 392.5,127C393.15,125.83 393.87,125.03 394.4,124.5C394.93,123.97 395.18,123.47 395.7,123.8C396.22,124.13 396.9,125.38 397.5,126.5C398.1,127.62 398.72,129.75 399.3,130.5C399.88,131.25 400.47,131.25 401,131C401.53,130.75 402,130.42 402.5,129C403,127.58 403.5,124.25 404,122.5C404.5,120.75 404.92,118.97 405.5,118.5C406.08,118.03 406.83,120.53 407.5,119.7C408.17,118.87 408.92,116.28 409.5,113.5C410.08,110.72 410.5,107.25 411,103C411.5,98.75 411.95,92.17 412.5,88C413.05,83.83 413.72,78.83 414.3,78C414.88,77.17 415.42,81.08 416,83C416.58,84.92 417.17,88.2 417.8,89.5C418.43,90.8 419.1,89.72 419.8,90.8C420.5,91.88 421.22,93.88 422,96C422.78,98.12 423.72,101.45 424.5,103.5C425.28,105.55 426.03,108.22 426.7,108.3C427.37,108.38 427.87,106.72 428.5,104C429.13,101.28 429.88,96.33 430.5,92C431.12,87.67 431.72,82 432.2,78C432.68,74 433.02,71.33 433.4,68C433.78,64.67 434.13,61.5 434.5,58C434.87,54.5 435.27,50.03 435.6,47C435.93,43.97 436.18,41.55 436.5,39.8C436.82,38.05 437.17,36.5 437.5,36.5C437.83,36.5 438.17,38.05 438.5,39.8C438.83,41.55 439.15,43.63 439.5,47C439.85,50.37 440.25,55.33 440.6,60C440.95,64.67 441.27,69.83 441.6,75C441.93,80.17 442.23,86.5 442.6,91C442.97,95.5 443.23,99.95 443.8,102C444.37,104.05 445.25,103.33 446,103.3C446.75,103.27 447.63,101.35 448.3,101.8C448.97,102.25 449.3,103.88 450,106C450.7,108.12 452.08,113.08 452.5,114.5" fill="none" stroke="#0000ff" stroke-width="1.5" stroke-linejoin="round"/><path d="M260.5,210.2C262.42,210.18 269.42,210.22 272,210.1C274.58,209.98 274.83,209.7 276,209.5C277.17,209.3 278,208.92 279,208.9C280,208.88 280.67,209.22 282,209.4C283.33,209.58 285.33,210.15 287,210C288.67,209.85 290.5,209.17 292,208.5C293.5,207.83 294.67,206.63 296,206C297.33,205.37 298.67,204.7 300,204.7C301.33,204.7 302.67,205.52 304,206C305.33,206.48 306.67,207.27 308,207.6C309.33,207.93 310.83,208.1 312,208C313.17,207.9 314,207.83 315,207C316,206.17 317,204.42 318,203C319,201.58 320.05,199.58 321,198.5C321.95,197.42 322.78,196.42 323.7,196.5C324.62,196.58 325.45,198.25 326.5,199C327.55,199.75 328.75,200.75 330,201C331.25,201.25 332.67,200.78 334,200.5C335.33,200.22 336.67,199.88 338,199.3C339.33,198.72 340.75,197.97 342,197C343.25,196.03 344.5,195 345.5,193.5C346.5,192 347.17,189.58 348,188C348.83,186.42 349.67,184.88 350.5,184C351.33,183.12 352,182.95 353,182.7C354,182.45 355.42,182.7 356.5,182.5C357.58,182.3 358.58,182.58 359.5,181.5C360.42,180.42 361.25,178.08 362,176C362.75,173.92 363.25,171.67 364,169C364.75,166.33 365.67,162.5 366.5,160C367.33,157.5 368.08,155.5 369,154C369.92,152.5 370.83,151.58 372,151C373.17,150.42 374.67,150.62 376,150.5C377.33,150.38 378.92,150.8 380,150.3C381.08,149.8 381.75,149.88 382.5,147.5C383.25,145.12 383.83,140.42 384.5,136C385.17,131.58 385.83,125.83 386.5,121C387.17,116.17 387.75,111.17 388.5,107C389.25,102.83 390.12,98.67 391,96C391.88,93.33 392.97,90.67 393.8,91C394.63,91.33 395.38,94.5 396,98C396.62,101.5 397.08,108.25 397.5,112C397.92,115.75 398.08,118.92 398.5,120.5C398.92,122.08 399.33,122.08 400,121.5C400.67,120.92 401.83,117.58 402.5,117C403.17,116.42 403.5,116.67 404,118C404.5,119.33 404.92,122.33 405.5,125C406.08,127.67 406.8,131.83 407.5,134C408.2,136.17 409.03,138 409.7,138C410.37,138 410.95,135.83 411.5,134C412.05,132.17 412.25,130.33 413,127C413.75,123.67 415,119.5 416,114C417,108.5 418.08,101 419,94C419.92,87 420.75,79.33 421.5,72C422.25,64.67 422.8,55.92 423.5,50C424.2,44.08 425.03,36.83 425.7,36.5C426.37,36.17 426.9,42.08 427.5,48C428.1,53.92 428.8,63.33 429.3,72C429.8,80.67 430.13,92.33 430.5,100C430.87,107.67 431,113.42 431.5,118C432,122.58 432.8,125.25 433.5,127.5C434.2,129.75 434.95,131.42 435.7,131.5C436.45,131.58 437.2,129.5 438,128C438.8,126.5 439.62,124.05 440.5,122.5C441.38,120.95 442.38,119.62 443.3,118.7C444.22,117.78 445.1,117.4 446,117C446.9,116.6 447.62,116.05 448.7,116.3C449.78,116.55 451.87,118.13 452.5,118.5" fill="none" stroke="#ff0000" stroke-width="1.5" stroke-linejoin="round"/><path d="M272,210.2C273,210.13 275.83,209.98 278,209.8C280.17,209.62 282.5,209.47 285,209.1C287.5,208.73 290.67,208.2 293,207.6C295.33,207 297.17,206.18 299,205.5C300.83,204.82 302.33,204.2 304,203.5C305.67,202.8 307.33,201.97 309,201.3C310.67,200.63 312.5,200.18 314,199.5C315.5,198.82 316.55,198.12 318,197.2C319.45,196.28 321.2,195.37 322.7,194C324.2,192.63 325.68,190.83 327,189C328.32,187.17 329.35,185.33 330.6,183C331.85,180.67 333.18,178 334.5,175C335.82,172 337.17,168.67 338.5,165C339.83,161.33 341.17,157 342.5,153C343.83,149 345.25,144.83 346.5,141C347.75,137.17 348.83,133.83 350,130C351.17,126.17 352.33,122.33 353.5,118C354.67,113.67 355.83,109 357,104C358.17,99 359.42,92.5 360.5,88C361.58,83.5 362.5,81.17 363.5,77C364.5,72.83 365.5,67.5 366.5,63C367.5,58.5 368.47,53.92 369.5,50C370.53,46.08 371.78,41.67 372.7,39.5C373.62,37.33 374.18,37.53 375,37C375.82,36.47 376.77,36.35 377.6,36.3C378.43,36.25 378.87,36.52 380,36.7C381.13,36.88 383.15,37.1 384.4,37.4C385.65,37.7 386.4,37.82 387.5,38.5C388.6,39.18 389.92,40.5 391,41.5C392.08,42.5 393.12,43.5 394,44.5C394.88,45.5 395.47,46.08 396.3,47.5C397.13,48.92 398.05,51.08 399,53C399.95,54.92 401.13,57.08 402,59C402.87,60.92 403.37,62 404.2,64.5C405.03,67 406.03,70.92 407,74C407.97,77.08 409,79.83 410,83C411,86.17 411.85,89.53 413,93C414.15,96.47 415.73,100.8 416.9,103.8C418.07,106.8 418.85,108.52 420,111C421.15,113.48 422.43,115.48 423.8,118.7C425.17,121.92 427,127.25 428.2,130.3C429.4,133.35 429.93,134.97 431,137C432.07,139.03 433.43,141.08 434.6,142.5C435.77,143.92 436.55,144.42 438,145.5C439.45,146.58 441.8,148.13 443.3,149C444.8,149.87 445.47,150.12 447,150.7C448.53,151.28 451.58,152.2 452.5,152.5" fill="none" stroke="#000" stroke-width="1.5" stroke-dasharray="5.5,2.4"/></g><rect x="266.3" y="46.3" width="85.2" height="58.5" rx="2" ry="2" fill="#fff" fill-opacity="0.8" stroke="#d4d4d4" stroke-width="1"/><rect x="270.3" y="50.7" width="21" height="7.5" fill="#008000" fill-opacity="0.1" stroke="#008000" stroke-width="1.5"/><rect x="270.3" y="65.1" width="21" height="7.5" fill="#0000ff" fill-opacity="0.2" stroke="#0000ff" stroke-width="1.5"/><rect x="270.3" y="79.5" width="21" height="7.5" fill="#ff0000" fill-opacity="0.1" stroke="#ff0000" stroke-width="1.5"/><line x1="270" y1="96.9" x2="291.5" y2="96.9" stroke="#000" stroke-width="1.5" stroke-dasharray="7.3,3.2"/><text x="294.6" y="57.7" font-size="10.8"><tspan font-family="Liberation Serif" font-style="italic">G</tspan><tspan font-family="Liberation Serif" font-size="7.56" dy="1.8">0</tspan><tspan font-family="Liberation Serif" font-style="italic" dy="-1.8">W</tspan><tspan font-family="Liberation Serif" font-size="7.56" dy="1.8">0</tspan><tspan font-family="Liberation Sans" dy="-1.8">-BSE</tspan></text><text x="294.6" y="71.4" font-size="10.8"><tspan font-family="Liberation Serif" font-style="italic">G</tspan><tspan font-family="Liberation Serif" font-size="7.56" dy="1.8">0</tspan><tspan font-family="Liberation Serif" font-style="italic" dy="-1.8">W</tspan><tspan font-family="Liberation Serif" font-size="7.56" dy="1.8">0</tspan><tspan font-family="Liberation Sans" dy="-1.8">-RPA</tspan></text><text x="295.3" y="87.1" font-family="Liberation Sans" font-size="10.4" text-anchor="start" fill="#000" >TDHSE</text><text x="295.3" y="99.1" font-family="Liberation Sans" font-size="10.4" text-anchor="start" fill="#000" >Experiment</text><line x1="158.5" y1="0" x2="158.5" y2="210.5" stroke="#000" stroke-width="1.1" stroke-dasharray="3.7,1.8"/><line x1="38.5" y1="122.5" x2="218.5" y2="122.5" stroke="#000" stroke-width="1.1" stroke-dasharray="1.1,1.5"/><line x1="38.5" y1="0" x2="38.5" y2="211" stroke="#000" stroke-width="1.0" /><line x1="218.5" y1="0" x2="218.5" y2="211" stroke="#000" stroke-width="1.0" /><line x1="38" y1="5.5" x2="219" y2="5.5" stroke="#000" stroke-width="1.0" /><line x1="38" y1="210.5" x2="219" y2="210.5" stroke="#000" stroke-width="1.0" /><line x1="34" y1="210.34" x2="38.5" y2="210.34" stroke="#000" stroke-width="1" /><line x1="218.5" y1="210.34" x2="223" y2="210.34" stroke="#000" stroke-width="1" /><text x="30.2" y="215.04" font-family="Liberation Serif" font-size="14" text-anchor="end" fill="#000" >6</text><rect x="13.8" y="210.94" width="8.3" height="0.9" fill="#222"/><line x1="34" y1="181.06" x2="38.5" y2="181.06" stroke="#000" stroke-width="1" /><line x1="218.5" y1="181.06" x2="223" y2="181.06" stroke="#000" stroke-width="1" /><text x="30.2" y="185.76" font-family="Liberation Serif" font-size="14" text-anchor="end" fill="#000" >4</text><rect x="13.8" y="181.66" width="8.3" height="0.9" fill="#222"/><line x1="34" y1="151.78" x2="38.5" y2="151.78" stroke="#000" stroke-width="1" /><line x1="218.5" y1="151.78" x2="223" y2="151.78" stroke="#000" stroke-width="1" /><text x="30.2" y="156.48" font-family="Liberation Serif" font-size="14" text-anchor="end" fill="#000" >2</text><rect x="13.8" y="152.38" width="8.3" height="0.9" fill="#222"/><line x1="34" y1="122.5" x2="38.5" y2="122.5" stroke="#000" stroke-width="1" /><line x1="218.5" y1="122.5" x2="223" y2="122.5" stroke="#000" stroke-width="1" /><text x="30.2" y="127.2" font-family="Liberation Serif" font-size="14" text-anchor="end" fill="#000" >0</text><line x1="34" y1="93.22" x2="38.5" y2="93.22" stroke="#000" stroke-width="1" /><line x1="218.5" y1="93.22" x2="223" y2="93.22" stroke="#000" stroke-width="1" /><text x="30.2" y="97.92" font-family="Liberation Serif" font-size="14" text-anchor="end" fill="#000" >2</text><line x1="34" y1="63.94" x2="38.5" y2="63.94" stroke="#000" stroke-width="1" /><line x1="218.5" y1="63.94" x2="223" y2="63.94" stroke="#000" stroke-width="1" /><text x="30.2" y="68.64" font-family="Liberation Serif" font-size="14" text-anchor="end" fill="#000" >4</text><line x1="34" y1="34.66" x2="38.5" y2="34.66" stroke="#000" stroke-width="1" /><line x1="218.5" y1="34.66" x2="223" y2="34.66" stroke="#000" stroke-width="1" /><text x="30.2" y="39.36" font-family="Liberation Serif" font-size="14" text-anchor="end" fill="#000" >6</text><line x1="34" y1="5.38" x2="38.5" y2="5.38" stroke="#000" stroke-width="1" /><line x1="218.5" y1="5.38" x2="223" y2="5.38" stroke="#000" stroke-width="1" /><text x="30.2" y="10.08" font-family="Liberation Serif" font-size="14" text-anchor="end" fill="#000" >8</text><line x1="36" y1="203.02" x2="38.5" y2="203.02" stroke="#000" stroke-width="0.8" /><line x1="36" y1="195.7" x2="38.5" y2="195.7" stroke="#000" stroke-width="0.8" /><line x1="36" y1="188.38" x2="38.5" y2="188.38" stroke="#000" stroke-width="0.8" /><line x1="36" y1="173.74" x2="38.5" y2="173.74" stroke="#000" stroke-width="0.8" /><line x1="36" y1="166.42" x2="38.5" y2="166.42" stroke="#000" stroke-width="0.8" /><line x1="36" y1="159.1" x2="38.5" y2="159.1" stroke="#000" stroke-width="0.8" /><line x1="36" y1="144.46" x2="38.5" y2="144.46" stroke="#000" stroke-width="0.8" /><line x1="36" y1="137.14" x2="38.5" y2="137.14" stroke="#000" stroke-width="0.8" /><line x1="36" y1="129.82" x2="38.5" y2="129.82" stroke="#000" stroke-width="0.8" /><line x1="36" y1="115.18" x2="38.5" y2="115.18" stroke="#000" stroke-width="0.8" /><line x1="36" y1="107.86" x2="38.5" y2="107.86" stroke="#000" stroke-width="0.8" /><line x1="36" y1="100.54" x2="38.5" y2="100.54" stroke="#000" stroke-width="0.8" /><line x1="36" y1="85.9" x2="38.5" y2="85.9" stroke="#000" stroke-width="0.8" /><line x1="36" y1="78.58" x2="38.5" y2="78.58" stroke="#000" stroke-width="0.8" /><line x1="36" y1="71.26" x2="38.5" y2="71.26" stroke="#000" stroke-width="0.8" /><line x1="36" y1="56.62" x2="38.5" y2="56.62" stroke="#000" stroke-width="0.8" /><line x1="36" y1="49.3" x2="38.5" y2="49.3" stroke="#000" stroke-width="0.8" /><line x1="36" y1="41.98" x2="38.5" y2="41.98" stroke="#000" stroke-width="0.8" /><line x1="36" y1="27.34" x2="38.5" y2="27.34" stroke="#000" stroke-width="0.8" /><line x1="36" y1="20.02" x2="38.5" y2="20.02" stroke="#000" stroke-width="0.8" /><line x1="36" y1="12.7" x2="38.5" y2="12.7" stroke="#000" stroke-width="0.8" /><line x1="38.5" y1="210.5" x2="38.5" y2="215" stroke="#000" stroke-width="1" /><text x="38.5" y="228" font-family="Liberation Serif" font-size="13.5" text-anchor="middle" fill="#000" >&#915;</text><line x1="158.5" y1="210.5" x2="158.5" y2="215" stroke="#000" stroke-width="1" /><text x="158.5" y="228" font-family="Liberation Serif" font-size="13.5" text-anchor="middle" fill="#000" >K</text><line x1="218.5" y1="210.5" x2="218.5" y2="215" stroke="#000" stroke-width="1" /><text x="218.5" y="228" font-family="Liberation Serif" font-size="13.5" text-anchor="middle" fill="#000" >M</text><text x="-0.2" y="18.3" font-family="Liberation Sans" font-size="26" text-anchor="start" fill="#000" >a</text><text transform="translate(10.9,142) rotate(-90)" font-family="Liberation Sans" font-size="14.3">Energy<tspan font-size="11.4" letter-spacing="0.45">(eV)</tspan></text><text x="107.6" y="243.5" font-size="14.3"><tspan font-family="Liberation Serif" font-style="italic">k</tspan><tspan font-family="Liberation Sans" letter-spacing="0.55">-path</tspan></text><line x1="260" y1="34" x2="260" y2="210.1" stroke="#000" stroke-width="1.0" /><line x1="452.5" y1="34" x2="452.5" y2="210.1" stroke="#000" stroke-width="1.0" /><line x1="259.5" y1="34.5" x2="453" y2="34.5" stroke="#000" stroke-width="1.0" /><line x1="259.5" y1="209.6" x2="453" y2="209.6" stroke="#000" stroke-width="1.0" /><line x1="279" y1="209.6" x2="279" y2="213.3" stroke="#000" stroke-width="1" /><text x="279" y="226.3" font-family="Liberation Serif" font-size="12" text-anchor="middle" fill="#000" >4</text><line x1="315.8" y1="209.6" x2="315.8" y2="213.3" stroke="#000" stroke-width="1" /><text x="315.8" y="226.3" font-family="Liberation Serif" font-size="12" text-anchor="middle" fill="#000" >5</text><line x1="352.6" y1="209.6" x2="352.6" y2="213.3" stroke="#000" stroke-width="1" /><text x="352.6" y="226.3" font-family="Liberation Serif" font-size="12" text-anchor="middle" fill="#000" >6</text><line x1="389.4" y1="209.6" x2="389.4" y2="213.3" stroke="#000" stroke-width="1" /><text x="389.4" y="226.3" font-family="Liberation Serif" font-size="12" text-anchor="middle" fill="#000" >7</text><line x1="426.2" y1="209.6" x2="426.2" y2="213.3" stroke="#000" stroke-width="1" /><text x="426.2" y="226.3" font-family="Liberation Serif" font-size="12" text-anchor="middle" fill="#000" >8</text><line x1="264.28" y1="209.6" x2="264.28" y2="211.8" stroke="#000" stroke-width="0.8" /><line x1="271.64" y1="209.6" x2="271.64" y2="211.8" stroke="#000" stroke-width="0.8" /><line x1="286.36" y1="209.6" x2="286.36" y2="211.8" stroke="#000" stroke-width="0.8" /><line x1="293.72" y1="209.6" x2="293.72" y2="211.8" stroke="#000" stroke-width="0.8" /><line x1="301.08" y1="209.6" x2="301.08" y2="211.8" stroke="#000" stroke-width="0.8" /><line x1="308.44" y1="209.6" x2="308.44" y2="211.8" stroke="#000" stroke-width="0.8" /><line x1="323.16" y1="209.6" x2="323.16" y2="211.8" stroke="#000" stroke-width="0.8" /><line x1="330.52" y1="209.6" x2="330.52" y2="211.8" stroke="#000" stroke-width="0.8" /><line x1="337.88" y1="209.6" x2="337.88" y2="211.8" stroke="#000" stroke-width="0.8" /><line x1="345.24" y1="209.6" x2="345.24" y2="211.8" stroke="#000" stroke-width="0.8" /><line x1="359.96" y1="209.6" x2="359.96" y2="211.8" stroke="#000" stroke-width="0.8" /><line x1="367.32" y1="209.6" x2="367.32" y2="211.8" stroke="#000" stroke-width="0.8" /><line x1="374.68" y1="209.6" x2="374.68" y2="211.8" stroke="#000" stroke-width="0.8" /><line x1="382.04" y1="209.6" x2="382.04" y2="211.8" stroke="#000" stroke-width="0.8" /><line x1="396.76" y1="209.6" x2="396.76" y2="211.8" stroke="#000" stroke-width="0.8" /><line x1="404.12" y1="209.6" x2="404.12" y2="211.8" stroke="#000" stroke-width="0.8" /><line x1="411.48" y1="209.6" x2="411.48" y2="211.8" stroke="#000" stroke-width="0.8" /><line x1="418.84" y1="209.6" x2="418.84" y2="211.8" stroke="#000" stroke-width="0.8" /><line x1="433.56" y1="209.6" x2="433.56" y2="211.8" stroke="#000" stroke-width="0.8" /><line x1="440.92" y1="209.6" x2="440.92" y2="211.8" stroke="#000" stroke-width="0.8" /><line x1="448.28" y1="209.6" x2="448.28" y2="211.8" stroke="#000" stroke-width="0.8" /><line x1="255.5" y1="209.6" x2="260" y2="209.6" stroke="#000" stroke-width="1" /><line x1="452.5" y1="209.6" x2="457" y2="209.6" stroke="#000" stroke-width="1" /><line x1="255.5" y1="36.3" x2="260" y2="36.3" stroke="#000" stroke-width="1" /><line x1="452.5" y1="36.3" x2="457" y2="36.3" stroke="#000" stroke-width="1" /><text x="253.3" y="214.6" font-family="Liberation Serif" font-size="13.5" text-anchor="end" fill="#000" >0</text><text x="252.6" y="41.3" font-family="Liberation Serif" font-size="13.5" text-anchor="end" fill="#000" >1</text><line x1="257.5" y1="174.94" x2="260" y2="174.94" stroke="#000" stroke-width="0.8" /><line x1="257.5" y1="140.28" x2="260" y2="140.28" stroke="#000" stroke-width="0.8" /><line x1="257.5" y1="105.62" x2="260" y2="105.62" stroke="#000" stroke-width="0.8" /><line x1="257.5" y1="70.96" x2="260" y2="70.96" stroke="#000" stroke-width="0.8" /><line x1="262.16" y1="34.5" x2="262.16" y2="30.2" stroke="#000" stroke-width="1" /><text x="262.16" y="25.2" font-family="Liberation Serif" font-size="12" text-anchor="middle" fill="#000" >350</text><line x1="283.89" y1="34.5" x2="283.89" y2="30.2" stroke="#000" stroke-width="1" /><text x="283.89" y="25.2" font-family="Liberation Serif" font-size="12" text-anchor="middle" fill="#000" >300</text><line x1="314.3" y1="34.5" x2="314.3" y2="30.2" stroke="#000" stroke-width="1" /><text x="314.3" y="25.2" font-family="Liberation Serif" font-size="12" text-anchor="middle" fill="#000" >250</text><line x1="359.93" y1="34.5" x2="359.93" y2="30.2" stroke="#000" stroke-width="1" /><text x="359.93" y="25.2" font-family="Liberation Serif" font-size="12" text-anchor="middle" fill="#000" >200</text><line x1="435.97" y1="34.5" x2="435.97" y2="30.2" stroke="#000" stroke-width="1" /><text x="435.97" y="25.2" font-family="Liberation Serif" font-size="12" text-anchor="middle" fill="#000" >150</text><text x="234.2" y="18" font-family="Liberation Sans" font-size="26" text-anchor="start" fill="#000" >b</text><text x="306" y="10.9" font-family="Liberation Sans" font-size="14">Wavelength<tspan font-size="11.4" letter-spacing="0.45">(nm)</tspan></text><text x="322" y="244.5" font-family="Liberation Sans" font-size="14.3">Energy<tspan font-size="11.4" letter-spacing="0.45">(eV)</tspan></text><text transform="translate(246,185.5) rotate(-90)" font-family="Liberation Sans" font-size="14.3" letter-spacing="0.25">Absorption<tspan font-size="11.4" letter-spacing="0.25">(arb. units)</tspan></text><line x1="617.5" y1="0" x2="617.5" y2="211.5" stroke="#000" stroke-width="1.1" stroke-dasharray="3.7,1.8"/><line x1="501.5" y1="116.7" x2="675.5" y2="116.7" stroke="#000" stroke-width="1.1" stroke-dasharray="1.1,1.5"/><line x1="501.5" y1="1.5" x2="501.5" y2="212" stroke="#000" stroke-width="1.0" /><line x1="675.5" y1="1.5" x2="675.5" y2="212" stroke="#000" stroke-width="1.0" /><line x1="501" y1="211.5" x2="676" y2="211.5" stroke="#000" stroke-width="1.0" /><line x1="501" y1="6.5" x2="676" y2="6.5" stroke="#000022" stroke-width="1.0" /><line x1="497" y1="211.5" x2="501.5" y2="211.5" stroke="#000" stroke-width="1" /><line x1="675.5" y1="211.5" x2="680" y2="211.5" stroke="#000" stroke-width="1" /><text x="495.3" y="216.2" font-family="Liberation Serif" font-size="14" text-anchor="end" fill="#000" >6</text><rect x="479" y="212.1" width="8.2" height="0.9" fill="#222"/><line x1="497" y1="179.9" x2="501.5" y2="179.9" stroke="#000" stroke-width="1" /><line x1="675.5" y1="179.9" x2="680" y2="179.9" stroke="#000" stroke-width="1" /><text x="495.3" y="184.6" font-family="Liberation Serif" font-size="14" text-anchor="end" fill="#000" >4</text><rect x="479" y="180.5" width="8.2" height="0.9" fill="#222"/><line x1="497" y1="148.3" x2="501.5" y2="148.3" stroke="#000" stroke-width="1" /><line x1="675.5" y1="148.3" x2="680" y2="148.3" stroke="#000" stroke-width="1" /><text x="495.3" y="153" font-family="Liberation Serif" font-size="14" text-anchor="end" fill="#000" >2</text><rect x="479" y="148.9" width="8.2" height="0.9" fill="#222"/><line x1="497" y1="116.7" x2="501.5" y2="116.7" stroke="#000" stroke-width="1" /><line x1="675.5" y1="116.7" x2="680" y2="116.7" stroke="#000" stroke-width="1" /><text x="495.3" y="121.4" font-family="Liberation Serif" font-size="14" text-anchor="end" fill="#000" >0</text><line x1="497" y1="85.1" x2="501.5" y2="85.1" stroke="#000" stroke-width="1" /><line x1="675.5" y1="85.1" x2="680" y2="85.1" stroke="#000" stroke-width="1" /><text x="495.3" y="89.8" font-family="Liberation Serif" font-size="14" text-anchor="end" fill="#000" >2</text><line x1="497" y1="53.5" x2="501.5" y2="53.5" stroke="#000" stroke-width="1" /><line x1="675.5" y1="53.5" x2="680" y2="53.5" stroke="#000" stroke-width="1" /><text x="495.3" y="58.2" font-family="Liberation Serif" font-size="14" text-anchor="end" fill="#000" >4</text><line x1="497" y1="21.9" x2="501.5" y2="21.9" stroke="#000" stroke-width="1" /><line x1="675.5" y1="21.9" x2="680" y2="21.9" stroke="#000" stroke-width="1" /><text x="495.3" y="26.6" font-family="Liberation Serif" font-size="14" text-anchor="end" fill="#000" >6</text><line x1="499" y1="203.6" x2="501.5" y2="203.6" stroke="#000" stroke-width="0.8" /><line x1="499" y1="195.7" x2="501.5" y2="195.7" stroke="#000" stroke-width="0.8" /><line x1="499" y1="187.8" x2="501.5" y2="187.8" stroke="#000" stroke-width="0.8" /><line x1="499" y1="172" x2="501.5" y2="172" stroke="#000" stroke-width="0.8" /><line x1="499" y1="164.1" x2="501.5" y2="164.1" stroke="#000" stroke-width="0.8" /><line x1="499" y1="156.2" x2="501.5" y2="156.2" stroke="#000" stroke-width="0.8" /><line x1="499" y1="140.4" x2="501.5" y2="140.4" stroke="#000" stroke-width="0.8" /><line x1="499" y1="132.5" x2="501.5" y2="132.5" stroke="#000" stroke-width="0.8" /><line x1="499" y1="124.6" x2="501.5" y2="124.6" stroke="#000" stroke-width="0.8" /><line x1="499" y1="108.8" x2="501.5" y2="108.8" stroke="#000" stroke-width="0.8" /><line x1="499" y1="100.9" x2="501.5" y2="100.9" stroke="#000" stroke-width="0.8" /><line x1="499" y1="93" x2="501.5" y2="93" stroke="#000" stroke-width="0.8" /><line x1="499" y1="77.2" x2="501.5" y2="77.2" stroke="#000" stroke-width="0.8" /><line x1="499" y1="69.3" x2="501.5" y2="69.3" stroke="#000" stroke-width="0.8" /><line x1="499" y1="61.4" x2="501.5" y2="61.4" stroke="#000" stroke-width="0.8" /><line x1="499" y1="45.6" x2="501.5" y2="45.6" stroke="#000" stroke-width="0.8" /><line x1="499" y1="37.7" x2="501.5" y2="37.7" stroke="#000" stroke-width="0.8" /><line x1="499" y1="29.8" x2="501.5" y2="29.8" stroke="#000" stroke-width="0.8" /><line x1="499" y1="14" x2="501.5" y2="14" stroke="#000" stroke-width="0.8" /><line x1="499" y1="6.1" x2="501.5" y2="6.1" stroke="#000" stroke-width="0.8" /><line x1="501.5" y1="211.5" x2="501.5" y2="216" stroke="#000" stroke-width="1" /><text x="501.5" y="229" font-family="Liberation Serif" font-size="13.5" text-anchor="middle" fill="#000" >&#915;</text><line x1="617.5" y1="211.5" x2="617.5" y2="216" stroke="#000" stroke-width="1" /><text x="617.5" y="229" font-family="Liberation Serif" font-size="13.5" text-anchor="middle" fill="#000" >K</text><line x1="675.5" y1="211.5" x2="675.5" y2="216" stroke="#000" stroke-width="1" /><text x="675.5" y="229" font-family="Liberation Serif" font-size="13.5" text-anchor="middle" fill="#000" >M</text><text x="464.9" y="18.3" font-family="Liberation Sans" font-size="26" text-anchor="start" fill="#000" >c</text><text transform="translate(474.8,141.7) rotate(-90)" font-family="Liberation Sans" font-size="14.3">Energy<tspan font-size="11.4" letter-spacing="0.45">(eV)</tspan></text><text x="568.3" y="244.4" font-size="14.3"><tspan font-family="Liberation Serif" font-style="italic">k</tspan><tspan font-family="Liberation Sans" letter-spacing="0.55">-path</tspan></text><rect x="41.9" y="74.7" width="94.5" height="33.5" rx="2" ry="2" fill="#fff" fill-opacity="0.8" stroke="#d4d4d4" stroke-width="1"/><line x1="46" y1="82.6" x2="68" y2="82.6" stroke="#ff0000" stroke-width="1.3" stroke-dasharray="1.3,2"/><line x1="46" y1="98" x2="69" y2="98" stroke="#0000ff" stroke-width="1.7"/><text x="76.2" y="86.5" font-family="Liberation Sans" font-size="10.4" text-anchor="start" fill="#000" >DFT-HSE</text><text x="76.4" y="101" font-size="10.8"><tspan font-family="Liberation Serif" font-style="italic">G</tspan><tspan font-family="Liberation Serif" font-size="7.56" dy="1.8">0</tspan><tspan font-family="Liberation Serif" font-style="italic" dy="-1.8">W</tspan><tspan font-family="Liberation Serif" font-size="7.56" dy="1.8">0</tspan><tspan font-family="Liberation Sans" dy="-1.8">@PBE</tspan></text>
</svg>
</body></html>
